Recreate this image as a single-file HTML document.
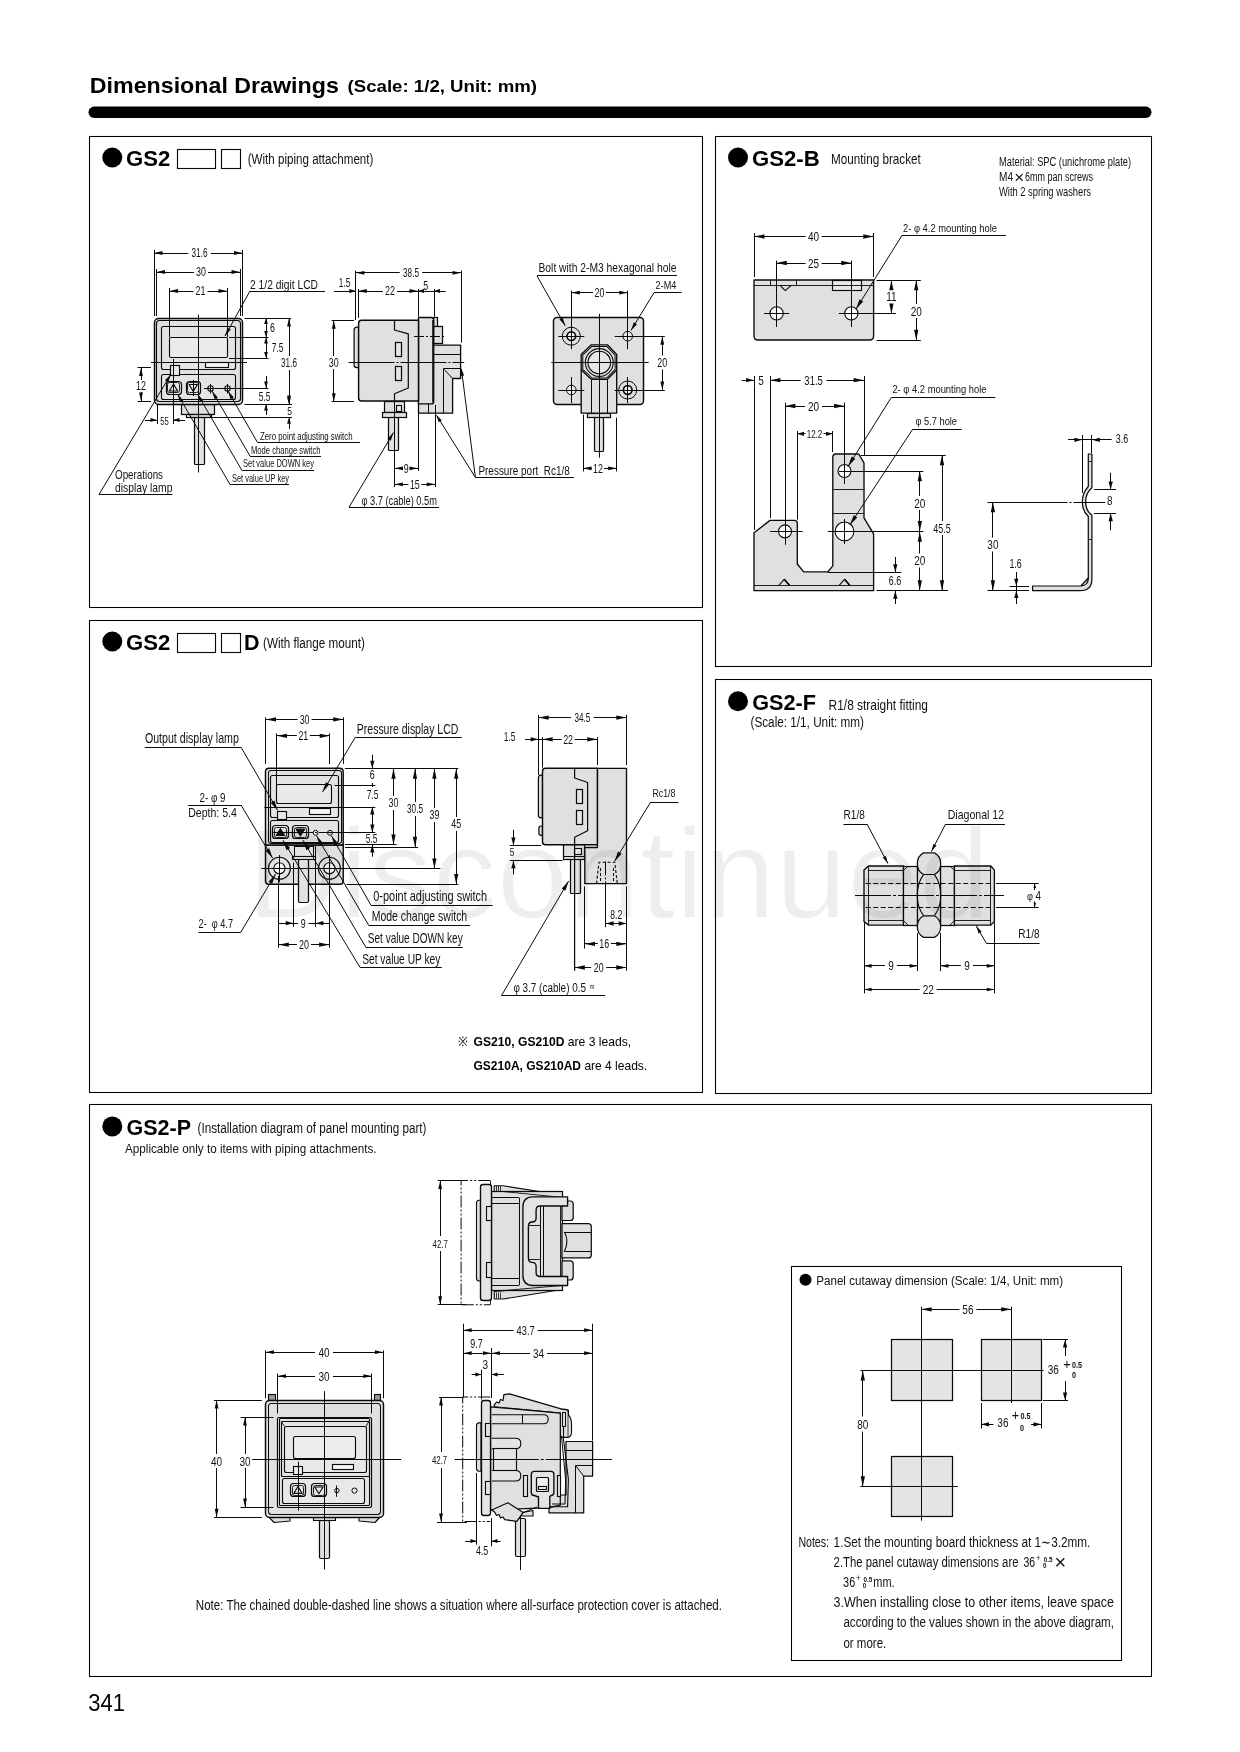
<!DOCTYPE html>
<html><head><meta charset="utf-8"><title>Dimensional Drawings</title>
<style>
html,body{margin:0;padding:0;background:#fff;}
body{width:1240px;height:1752px;overflow:hidden;font-family:"Liberation Sans",sans-serif;}
svg{display:block;font-family:"Liberation Sans",sans-serif;}
</style></head><body>
<svg width="1240" height="1752" viewBox="0 0 1240 1752">
<rect width="1240" height="1752" fill="#fff"/>
<g id="s0_frame">
<text x="89.8" y="93.14" font-size="22.6" textLength="249" lengthAdjust="spacingAndGlyphs" font-weight="bold" fill="#000" xml:space="preserve">Dimensional Drawings</text>
<text x="347.6" y="92.49" font-size="17.2" textLength="189.4" lengthAdjust="spacingAndGlyphs" font-weight="bold" fill="#000" xml:space="preserve">(Scale: 1/2, Unit: mm)</text>
<rect x="88.5" y="106.5" width="1063" height="11.5" rx="5.75" fill="#000"/>
<rect x="89.5" y="136.5" width="613" height="471" rx="0" fill="none" stroke="#000" stroke-width="1.06"/>
<rect x="89.5" y="620.5" width="613" height="472" rx="0" fill="none" stroke="#000" stroke-width="1.06"/>
<rect x="715.5" y="136.5" width="436" height="530" rx="0" fill="none" stroke="#000" stroke-width="1.06"/>
<rect x="715.5" y="679.5" width="436" height="414" rx="0" fill="none" stroke="#000" stroke-width="1.06"/>
<rect x="89.5" y="1104.5" width="1062" height="572" rx="0" fill="none" stroke="#000" stroke-width="1.06"/>
<circle cx="112.3" cy="157.5" r="10" fill="#000" stroke="none" stroke-width="0"/>
<text x="126" y="165.72" font-size="22" textLength="44.3" lengthAdjust="spacingAndGlyphs" font-weight="bold" fill="#000" xml:space="preserve">GS2</text>
<rect x="177.5" y="149.5" width="38" height="19" rx="0" fill="#fff" stroke="#0a0a0a" stroke-width="1.12"/>
<rect x="221.5" y="149.5" width="19" height="19" rx="0" fill="#fff" stroke="#0a0a0a" stroke-width="1.12"/>
<text x="247.7" y="164.44" font-size="14" textLength="125.7" lengthAdjust="spacingAndGlyphs" font-weight="normal" fill="#111" xml:space="preserve">(With piping attachment)</text>
<circle cx="112.3" cy="641.5" r="10" fill="#000" stroke="none" stroke-width="0"/>
<text x="126" y="649.72" font-size="22" textLength="44.3" lengthAdjust="spacingAndGlyphs" font-weight="bold" fill="#000" xml:space="preserve">GS2</text>
<rect x="177.5" y="633.5" width="38" height="19" rx="0" fill="#fff" stroke="#0a0a0a" stroke-width="1.12"/>
<rect x="221.5" y="633.5" width="19" height="19" rx="0" fill="#fff" stroke="#0a0a0a" stroke-width="1.12"/>
<text x="244" y="649.72" font-size="22" textLength="15.5" lengthAdjust="spacingAndGlyphs" font-weight="bold" fill="#000" xml:space="preserve">D</text>
<text x="263" y="648.44" font-size="14" textLength="102" lengthAdjust="spacingAndGlyphs" font-weight="normal" fill="#111" xml:space="preserve">(With flange mount)</text>
<circle cx="738" cy="157.5" r="10" fill="#000" stroke="none" stroke-width="0"/>
<text x="752" y="165.72" font-size="22" textLength="67.7" lengthAdjust="spacingAndGlyphs" font-weight="bold" fill="#000" xml:space="preserve">GS2-B</text>
<text x="831" y="163.82" font-size="14.5" textLength="89.8" lengthAdjust="spacingAndGlyphs" font-weight="normal" fill="#111" xml:space="preserve">Mounting bracket</text>
<text x="999" y="166.32" font-size="12" textLength="132" lengthAdjust="spacingAndGlyphs" font-weight="normal" fill="#111" xml:space="preserve">Material: SPC (unichrome plate)</text>
<text x="999" y="181.12" font-size="12" textLength="14" lengthAdjust="spacingAndGlyphs" font-weight="normal" fill="#111" xml:space="preserve">M4</text>
<text transform="translate(1019.2 182.72) scale(1 1)" font-size="17" text-anchor="middle" font-weight="normal" fill="#111">×</text>
<text x="1025" y="181.12" font-size="12" textLength="68" lengthAdjust="spacingAndGlyphs" font-weight="normal" fill="#111" xml:space="preserve">6mm pan screws</text>
<text x="999" y="196.02" font-size="12" textLength="92" lengthAdjust="spacingAndGlyphs" font-weight="normal" fill="#111" xml:space="preserve">With 2 spring washers</text>
<circle cx="738" cy="701.3" r="10" fill="#000" stroke="none" stroke-width="0"/>
<text x="752.3" y="709.52" font-size="22" textLength="63.7" lengthAdjust="spacingAndGlyphs" font-weight="bold" fill="#000" xml:space="preserve">GS2-F</text>
<text x="828.6" y="710.22" font-size="14.5" textLength="99.4" lengthAdjust="spacingAndGlyphs" font-weight="normal" fill="#111" xml:space="preserve">R1/8 straight fitting</text>
<text x="750.5" y="727.04" font-size="14" textLength="113.5" lengthAdjust="spacingAndGlyphs" font-weight="normal" fill="#111" xml:space="preserve">(Scale: 1/1, Unit: mm)</text>
<circle cx="112.3" cy="1126.4" r="10" fill="#000" stroke="none" stroke-width="0"/>
<text x="126.5" y="1134.62" font-size="22" textLength="64.5" lengthAdjust="spacingAndGlyphs" font-weight="bold" fill="#000" xml:space="preserve">GS2-P</text>
<text x="197.5" y="1132.74" font-size="14" textLength="229" lengthAdjust="spacingAndGlyphs" font-weight="normal" fill="#111" xml:space="preserve">(Installation diagram of panel mounting part)</text>
<text x="125" y="1152.86" font-size="13.5" textLength="251.5" lengthAdjust="spacingAndGlyphs" font-weight="normal" fill="#111" xml:space="preserve">Applicable only to items with piping attachments.</text>
<text x="195.8" y="1610.22" font-size="14.5" textLength="526.2" lengthAdjust="spacingAndGlyphs" font-weight="normal" fill="#111" xml:space="preserve">Note: The chained double-dashed line shows a situation where all-surface protection cover is attached.</text>
<text x="88.3" y="1711.06" font-size="23.5" textLength="36.7" lengthAdjust="spacingAndGlyphs" font-weight="normal" fill="#000" xml:space="preserve">341</text>
</g>
<g id="s1">
<rect x="194.5" y="417.5" width="10" height="47" rx="1" fill="#e2e2e2" stroke="#0a0a0a" stroke-width="1.23"/>
<rect x="181.5" y="404.5" width="33" height="10" rx="0" fill="#e0e0e0" stroke="#0a0a0a" stroke-width="1.23"/>
<rect x="186.5" y="414.5" width="25" height="3" rx="0" fill="#e0e0e0" stroke="#0a0a0a" stroke-width="1.23"/>
<rect x="154.5" y="318.5" width="88" height="86" rx="4" fill="#e0e0e0" stroke="#0a0a0a" stroke-width="1.46"/>
<rect x="156.5" y="320.5" width="84" height="81" rx="3" fill="none" stroke="#0a0a0a" stroke-width="1.12"/>
<rect x="161.5" y="326.5" width="74" height="43" rx="2" fill="#e4e4e4" stroke="#0a0a0a" stroke-width="1.12"/>
<rect x="169.5" y="337.5" width="58" height="20" rx="1.5" fill="#ebebeb" stroke="#0a0a0a" stroke-width="1.12"/>
<rect x="205.5" y="362.5" width="23" height="5" rx="0" fill="#f4f4f4" stroke="#0a0a0a" stroke-width="1.12"/>
<rect x="161.5" y="374.5" width="74" height="25" rx="2" fill="#e4e4e4" stroke="#0a0a0a" stroke-width="1.12"/>
<rect x="170.5" y="365.5" width="9" height="10" rx="0" fill="#e8e8e8" stroke="#0a0a0a" stroke-width="1.12"/>
<rect x="166.5" y="381.5" width="15" height="13" rx="3" fill="#e6e6e6" stroke="#0a0a0a" stroke-width="1.23"/>
<rect x="167.5" y="382.5" width="12" height="10" rx="2" fill="none" stroke="#0a0a0a" stroke-width="0.9"/>
<path d="M173.5 384.15 L177.7 390.95 L169.3 390.95 Z" fill="none" stroke="#0a0a0a" stroke-width="1.12" stroke-linejoin="round" />
<rect x="186.5" y="381.5" width="14" height="13" rx="3" fill="#e6e6e6" stroke="#0a0a0a" stroke-width="1.23"/>
<rect x="187.5" y="382.5" width="11" height="10" rx="2" fill="none" stroke="#0a0a0a" stroke-width="0.9"/>
<path d="M193.25 391.35 L197.45 384.55 L189.05 384.55 Z" fill="none" stroke="#0a0a0a" stroke-width="1.12" stroke-linejoin="round" />
<circle cx="210.5" cy="388.5" r="2.7" fill="#eee" stroke="#0a0a0a" stroke-width="1.1"/>
<line x1="210.5" y1="384" x2="210.5" y2="393.5" stroke="#0a0a0a" stroke-width="1"/>
<circle cx="227.5" cy="388.5" r="2.7" fill="#eee" stroke="#0a0a0a" stroke-width="1.1"/>
<line x1="227.5" y1="384" x2="227.5" y2="393.5" stroke="#0a0a0a" stroke-width="1"/>
<line x1="204" y1="388.5" x2="234" y2="388.5" stroke="#0a0a0a" stroke-width="1" stroke-dasharray="9 2 2 2"/>
<line x1="198.5" y1="314.5" x2="198.5" y2="472.5" stroke="#0a0a0a" stroke-width="1"/>
<line x1="193.5" y1="380" x2="193.5" y2="396" stroke="#0a0a0a" stroke-width="1"/>
<line x1="154.5" y1="250" x2="154.5" y2="316" stroke="#0a0a0a" stroke-width="1"/>
<line x1="242.5" y1="250" x2="242.5" y2="316" stroke="#0a0a0a" stroke-width="1"/>
<line x1="154" y1="253.5" x2="188.24" y2="253.5" stroke="#0a0a0a" stroke-width="1"/>
<line x1="210.76" y1="253.5" x2="242.5" y2="253.5" stroke="#0a0a0a" stroke-width="1"/>
<text transform="translate(199.5 257.32) scale(0.68 1)" font-size="12" text-anchor="middle" font-weight="normal" fill="#111">31.6</text>
<polygon points="154,253 162.5,251.1 162.5,254.9" fill="#0a0a0a"/>
<polygon points="242.5,253 234,254.9 234,251.1" fill="#0a0a0a"/>
<line x1="156.5" y1="269" x2="156.5" y2="316" stroke="#0a0a0a" stroke-width="1"/>
<line x1="240.5" y1="269" x2="240.5" y2="316" stroke="#0a0a0a" stroke-width="1"/>
<line x1="156.5" y1="272.5" x2="193.96" y2="272.5" stroke="#0a0a0a" stroke-width="1"/>
<line x1="208.04" y1="272.5" x2="240" y2="272.5" stroke="#0a0a0a" stroke-width="1"/>
<text transform="translate(201 276.32) scale(0.74 1)" font-size="12" text-anchor="middle" font-weight="normal" fill="#111">30</text>
<polygon points="156.5,272 165,270.1 165,273.9" fill="#0a0a0a"/>
<polygon points="240,272 231.5,273.9 231.5,270.1" fill="#0a0a0a"/>
<line x1="169.5" y1="288" x2="169.5" y2="337" stroke="#0a0a0a" stroke-width="1"/>
<line x1="227.5" y1="288" x2="227.5" y2="337" stroke="#0a0a0a" stroke-width="1"/>
<line x1="169.5" y1="291.5" x2="193.46" y2="291.5" stroke="#0a0a0a" stroke-width="1"/>
<line x1="207.54" y1="291.5" x2="227" y2="291.5" stroke="#0a0a0a" stroke-width="1"/>
<text transform="translate(200.5 295.32) scale(0.74 1)" font-size="12" text-anchor="middle" font-weight="normal" fill="#111">21</text>
<polygon points="169.5,291 178,289.1 178,292.9" fill="#0a0a0a"/>
<polygon points="227,291 218.5,292.9 218.5,289.1" fill="#0a0a0a"/>
<text x="250" y="289.18" font-size="13" textLength="68" lengthAdjust="spacingAndGlyphs" font-weight="normal" fill="#111" xml:space="preserve">2 1/2 digit LCD</text>
<line x1="250" y1="291.5" x2="325" y2="291.5" stroke="#0a0a0a" stroke-width="1"/>
<line x1="250" y1="291" x2="225" y2="336" stroke="#0a0a0a" stroke-width="1"/>
<polygon points="225,336 227.47,327.65 230.79,329.49" fill="#0a0a0a"/>
<line x1="244.5" y1="318.5" x2="291" y2="318.5" stroke="#0a0a0a" stroke-width="1"/>
<line x1="229" y1="337.5" x2="268.5" y2="337.5" stroke="#0a0a0a" stroke-width="1"/>
<line x1="229" y1="358.5" x2="268.5" y2="358.5" stroke="#0a0a0a" stroke-width="1"/>
<line x1="151" y1="362.5" x2="247" y2="362.5" stroke="#0a0a0a" stroke-width="1"/>
<line x1="266.5" y1="318" x2="266.5" y2="337" stroke="#0a0a0a" stroke-width="1"/>
<polygon points="266,318 267.9,324 264.1,324" fill="#0a0a0a"/>
<polygon points="266,337 264.1,331 267.9,331" fill="#0a0a0a"/>
<line x1="266.5" y1="337" x2="266.5" y2="358" stroke="#0a0a0a" stroke-width="1"/>
<polygon points="266,337.5 267.9,343.5 264.1,343.5" fill="#0a0a0a"/>
<polygon points="266,358 264.1,352 267.9,352" fill="#0a0a0a"/>
<text transform="translate(272.5 332.32) scale(0.74 1)" font-size="12" text-anchor="middle" font-weight="normal" fill="#111">6</text>
<text transform="translate(277.5 352.32) scale(0.7 1)" font-size="12" text-anchor="middle" font-weight="normal" fill="#111">7.5</text>
<line x1="289.5" y1="318" x2="289.5" y2="356" stroke="#0a0a0a" stroke-width="1"/>
<line x1="289.5" y1="370" x2="289.5" y2="404" stroke="#0a0a0a" stroke-width="1"/>
<text transform="translate(289 367.32) scale(0.68 1)" font-size="12" text-anchor="middle" font-weight="normal" fill="#111">31.6</text>
<polygon points="289,318 290.9,326.5 287.1,326.5" fill="#0a0a0a"/>
<polygon points="289,404 287.1,395.5 290.9,395.5" fill="#0a0a0a"/>
<line x1="214" y1="388.5" x2="268.5" y2="388.5" stroke="#0a0a0a" stroke-width="1"/>
<line x1="266.5" y1="376" x2="266.5" y2="388" stroke="#0a0a0a" stroke-width="1"/>
<polygon points="266,388 264.1,381.5 267.9,381.5" fill="#0a0a0a"/>
<line x1="266.5" y1="404" x2="266.5" y2="415" stroke="#0a0a0a" stroke-width="1"/>
<polygon points="266,404 267.9,410.5 264.1,410.5" fill="#0a0a0a"/>
<text transform="translate(264.5 400.82) scale(0.7 1)" font-size="12" text-anchor="middle" font-weight="normal" fill="#111">5.5</text>
<line x1="244.5" y1="404.5" x2="292" y2="404.5" stroke="#0a0a0a" stroke-width="1"/>
<line x1="212" y1="417.5" x2="292" y2="417.5" stroke="#0a0a0a" stroke-width="1"/>
<line x1="289.5" y1="417.2" x2="289.5" y2="429" stroke="#0a0a0a" stroke-width="1"/>
<polygon points="289,417.2 290.9,423.7 287.1,423.7" fill="#0a0a0a"/>
<polygon points="289,404 287.1,397.5 290.9,397.5" fill="#0a0a0a"/>
<text transform="translate(289.5 415.34) scale(0.74 1)" font-size="11.5" text-anchor="middle" font-weight="normal" fill="#111">5</text>
<line x1="137.5" y1="367.5" x2="151" y2="367.5" stroke="#0a0a0a" stroke-width="1"/>
<line x1="137.5" y1="401.5" x2="151" y2="401.5" stroke="#0a0a0a" stroke-width="1"/>
<line x1="141.5" y1="367.5" x2="141.5" y2="380" stroke="#0a0a0a" stroke-width="1"/>
<line x1="141.5" y1="392" x2="141.5" y2="401" stroke="#0a0a0a" stroke-width="1"/>
<text transform="translate(141 390.32) scale(0.74 1)" font-size="12" text-anchor="middle" font-weight="normal" fill="#111">12</text>
<polygon points="141,367.5 142.9,376 139.1,376" fill="#0a0a0a"/>
<polygon points="141,401 139.1,392.5 142.9,392.5" fill="#0a0a0a"/>
<line x1="157.5" y1="404" x2="157.5" y2="424" stroke="#0a0a0a" stroke-width="1"/>
<line x1="173.5" y1="359" x2="173.5" y2="424" stroke="#0a0a0a" stroke-width="1"/>
<line x1="145" y1="420.5" x2="157" y2="420.5" stroke="#0a0a0a" stroke-width="1"/>
<polygon points="157,420 150.5,421.9 150.5,418.1" fill="#0a0a0a"/>
<line x1="173" y1="420.5" x2="185" y2="420.5" stroke="#0a0a0a" stroke-width="1"/>
<polygon points="173,420 179.5,418.1 179.5,421.9" fill="#0a0a0a"/>
<text transform="translate(164.6 424.96) scale(0.7 1)" font-size="11" text-anchor="middle" font-weight="normal" fill="#111">55</text>
<text x="260" y="439.84" font-size="11.5" textLength="92.5" lengthAdjust="spacingAndGlyphs" font-weight="normal" fill="#111" xml:space="preserve">Zero point adjusting switch</text>
<line x1="257.5" y1="442.5" x2="360" y2="442.5" stroke="#0a0a0a" stroke-width="1"/>
<line x1="257.5" y1="442.5" x2="228" y2="391" stroke="#0a0a0a" stroke-width="1"/>
<polygon points="228,391 233.87,397.43 230.58,399.32" fill="#0a0a0a"/>
<text x="251" y="453.74" font-size="11.5" textLength="69.5" lengthAdjust="spacingAndGlyphs" font-weight="normal" fill="#111" xml:space="preserve">Mode change switch</text>
<line x1="250" y1="456.5" x2="321" y2="456.5" stroke="#0a0a0a" stroke-width="1"/>
<line x1="250" y1="456" x2="212" y2="391" stroke="#0a0a0a" stroke-width="1"/>
<polygon points="212,391 217.93,397.38 214.65,399.3" fill="#0a0a0a"/>
<text x="243" y="467.34" font-size="11.5" textLength="71" lengthAdjust="spacingAndGlyphs" font-weight="normal" fill="#111" xml:space="preserve">Set value DOWN key</text>
<line x1="242" y1="470.5" x2="314" y2="470.5" stroke="#0a0a0a" stroke-width="1"/>
<line x1="242" y1="470.5" x2="197.5" y2="394" stroke="#0a0a0a" stroke-width="1"/>
<polygon points="197.5,394 203.42,400.39 200.13,402.3" fill="#0a0a0a"/>
<text x="232" y="481.74" font-size="11.5" textLength="57" lengthAdjust="spacingAndGlyphs" font-weight="normal" fill="#111" xml:space="preserve">Set value UP key</text>
<line x1="230" y1="484.5" x2="289" y2="484.5" stroke="#0a0a0a" stroke-width="1"/>
<line x1="230" y1="484.5" x2="177.5" y2="394" stroke="#0a0a0a" stroke-width="1"/>
<polygon points="177.5,394 183.41,400.4 180.12,402.31" fill="#0a0a0a"/>
<text x="115" y="479.28" font-size="13" textLength="48" lengthAdjust="spacingAndGlyphs" font-weight="normal" fill="#111" xml:space="preserve">Operations</text>
<text x="115" y="492.08" font-size="13" textLength="57.5" lengthAdjust="spacingAndGlyphs" font-weight="normal" fill="#111" xml:space="preserve">display lamp</text>
<line x1="99" y1="494.5" x2="172.5" y2="494.5" stroke="#0a0a0a" stroke-width="1"/>
<line x1="99" y1="494.5" x2="171" y2="374" stroke="#0a0a0a" stroke-width="1"/>
<polygon points="171,374 168.27,382.27 165.01,380.32" fill="#0a0a0a"/>
<rect x="388.5" y="417.5" width="10" height="33" rx="1" fill="#e2e2e2" stroke="#0a0a0a" stroke-width="1.23"/>
<rect x="384.5" y="401.5" width="20" height="11" rx="0" fill="#e0e0e0" stroke="#0a0a0a" stroke-width="1.23"/>
<rect x="382.5" y="412.5" width="24" height="5" rx="0" fill="#e0e0e0" stroke="#0a0a0a" stroke-width="1.23"/>
<rect x="396.5" y="405.5" width="5" height="6" rx="0" fill="#e8e8e8" stroke="#0a0a0a" stroke-width="1.12"/>
<path d="M433.7 345.2 L460.6 345.2 L460.6 378.5 L452.6 378.5 L452.6 413.2 L418.5 413.2 L418.5 345.2 Z" fill="#e0e0e0" stroke="#0a0a0a" stroke-width="1.34" stroke-linejoin="round" />
<line x1="433.7" y1="354.5" x2="460.6" y2="354.5" stroke="#0a0a0a" stroke-width="1"/>
<line x1="443.3" y1="368.5" x2="460.6" y2="368.5" stroke="#0a0a0a" stroke-width="1"/>
<line x1="443.5" y1="368.9" x2="443.5" y2="413.2" stroke="#0a0a0a" stroke-width="1"/>
<line x1="444.3" y1="369.5" x2="452.6" y2="378.5" stroke="#0a0a0a" stroke-width="1"/>
<line x1="428.5" y1="403.9" x2="428.5" y2="413.2" stroke="#0a0a0a" stroke-width="1"/>
<rect x="433.5" y="317.5" width="4" height="9" rx="0" fill="#e0e0e0" stroke="#0a0a0a" stroke-width="1.23"/>
<rect x="433.5" y="326.5" width="9" height="17" rx="0" fill="#e0e0e0" stroke="#0a0a0a" stroke-width="1.23"/>
<path d="M418.5 317.5 H431.2 Q433.7 317.5 433.7 320 V401.4 Q433.7 403.9 431.2 403.9 H418.5 Z" fill="#e0e0e0" stroke="#0a0a0a" stroke-width="1.34" stroke-linejoin="round" />
<line x1="432.5" y1="320" x2="432.5" y2="402" stroke="#0a0a0a" stroke-width="0.8"/>
<path d="M354.1 330 Q354.1 327.1 357 327.1 H358.6 V367.7 H357 Q354.1 367.7 354.1 365 Z" fill="#e0e0e0" stroke="#0a0a0a" stroke-width="1.23" stroke-linejoin="round" />
<path d="M361.6 320.3 H418.5 V401 H361.6 Q358.6 401 358.6 398 V323.3 Q358.6 320.3 361.6 320.3 Z" fill="#e0e0e0" stroke="#0a0a0a" stroke-width="1.46" stroke-linejoin="round" />
<path d="M394.5 320.3 V330 L408.3 333.9 V388 L394.5 393.7 V401" fill="none" stroke="#0a0a0a" stroke-width="1.23" stroke-linejoin="round" />
<rect x="395.5" y="342.5" width="6" height="14" rx="0" fill="#e6e6e6" stroke="#0a0a0a" stroke-width="1.23"/>
<rect x="395.5" y="366.5" width="6" height="14" rx="0" fill="#e6e6e6" stroke="#0a0a0a" stroke-width="1.23"/>
<line x1="414" y1="336.5" x2="446" y2="336.5" stroke="#0a0a0a" stroke-width="1" stroke-dasharray="10 2 2 2"/>
<line x1="348.5" y1="362.5" x2="464.2" y2="362.5" stroke="#0a0a0a" stroke-width="1" stroke-dasharray="46 2 2 2"/>
<line x1="355.5" y1="270.6" x2="355.5" y2="320" stroke="#0a0a0a" stroke-width="1"/>
<line x1="461.5" y1="270.6" x2="461.5" y2="342.7" stroke="#0a0a0a" stroke-width="1"/>
<line x1="355.9" y1="272.5" x2="399.74" y2="272.5" stroke="#0a0a0a" stroke-width="1"/>
<line x1="422.26" y1="272.5" x2="461" y2="272.5" stroke="#0a0a0a" stroke-width="1"/>
<text transform="translate(411 277.12) scale(0.68 1)" font-size="12" text-anchor="middle" font-weight="normal" fill="#111">38.5</text>
<polygon points="355.9,272.8 364.4,270.9 364.4,274.7" fill="#0a0a0a"/>
<polygon points="461,272.8 452.5,274.7 452.5,270.9" fill="#0a0a0a"/>
<line x1="358.5" y1="289" x2="358.5" y2="318" stroke="#0a0a0a" stroke-width="1"/>
<line x1="418.5" y1="289" x2="418.5" y2="316.6" stroke="#0a0a0a" stroke-width="1"/>
<line x1="434.5" y1="289" x2="434.5" y2="316.6" stroke="#0a0a0a" stroke-width="1"/>
<text transform="translate(344.5 287.32) scale(0.68 1)" font-size="12" text-anchor="middle" font-weight="normal" fill="#111">1.5</text>
<line x1="334" y1="291.5" x2="355.9" y2="291.5" stroke="#0a0a0a" stroke-width="1"/>
<polygon points="355.9,291 349.4,292.9 349.4,289.1" fill="#0a0a0a"/>
<line x1="358.3" y1="291.5" x2="382.96" y2="291.5" stroke="#0a0a0a" stroke-width="1"/>
<line x1="397.04" y1="291.5" x2="418" y2="291.5" stroke="#0a0a0a" stroke-width="1"/>
<text transform="translate(390 295.32) scale(0.74 1)" font-size="12" text-anchor="middle" font-weight="normal" fill="#111">22</text>
<polygon points="358.3,291 366.8,289.1 366.8,292.9" fill="#0a0a0a"/>
<polygon points="418,291 409.5,292.9 409.5,289.1" fill="#0a0a0a"/>
<text transform="translate(425.7 290.32) scale(0.74 1)" font-size="12" text-anchor="middle" font-weight="normal" fill="#111">5</text>
<line x1="418" y1="291.5" x2="445.6" y2="291.5" stroke="#0a0a0a" stroke-width="1"/>
<polygon points="434,291 440,289.1 440,292.9" fill="#0a0a0a"/>
<polygon points="418,291 424,289.1 424,292.9" fill="#0a0a0a"/>
<line x1="331.6" y1="320.5" x2="354" y2="320.5" stroke="#0a0a0a" stroke-width="1"/>
<line x1="331.6" y1="401.5" x2="354" y2="401.5" stroke="#0a0a0a" stroke-width="1"/>
<line x1="333.5" y1="320.3" x2="333.5" y2="356.1" stroke="#0a0a0a" stroke-width="1"/>
<line x1="333.5" y1="369.1" x2="333.5" y2="401.8" stroke="#0a0a0a" stroke-width="1"/>
<text transform="translate(333.8 366.92) scale(0.74 1)" font-size="12" text-anchor="middle" font-weight="normal" fill="#111">30</text>
<polygon points="333.8,320.3 335.7,328.8 331.9,328.8" fill="#0a0a0a"/>
<polygon points="333.8,401.8 331.9,393.3 335.7,393.3" fill="#0a0a0a"/>
<line x1="394.5" y1="401" x2="394.5" y2="487" stroke="#0a0a0a" stroke-width="1"/>
<line x1="418.5" y1="413.2" x2="418.5" y2="471" stroke="#0a0a0a" stroke-width="1"/>
<line x1="435.5" y1="405" x2="435.5" y2="487" stroke="#0a0a0a" stroke-width="1"/>
<line x1="394.5" y1="468.5" x2="401.75" y2="468.5" stroke="#0a0a0a" stroke-width="1"/>
<line x1="410.75" y1="468.5" x2="418" y2="468.5" stroke="#0a0a0a" stroke-width="1"/>
<text transform="translate(406.25 472.62) scale(0.74 1)" font-size="12" text-anchor="middle" font-weight="normal" fill="#111">9</text>
<polygon points="394.5,468.3 403,466.4 403,470.2" fill="#0a0a0a"/>
<polygon points="418,468.3 409.5,470.2 409.5,466.4" fill="#0a0a0a"/>
<line x1="394.5" y1="484.5" x2="408.35" y2="484.5" stroke="#0a0a0a" stroke-width="1"/>
<line x1="421.35" y1="484.5" x2="435.2" y2="484.5" stroke="#0a0a0a" stroke-width="1"/>
<text transform="translate(414.85 488.62) scale(0.74 1)" font-size="12" text-anchor="middle" font-weight="normal" fill="#111">15</text>
<polygon points="394.5,484.3 403,482.4 403,486.2" fill="#0a0a0a"/>
<polygon points="435.2,484.3 426.7,486.2 426.7,482.4" fill="#0a0a0a"/>
<text x="361.4" y="504.82" font-size="12" textLength="75.6" lengthAdjust="spacingAndGlyphs" font-weight="normal" fill="#111" xml:space="preserve">φ 3.7 (cable) 0.5m</text>
<line x1="349" y1="507.5" x2="439" y2="507.5" stroke="#0a0a0a" stroke-width="1"/>
<line x1="349" y1="507.2" x2="393.5" y2="432.5" stroke="#0a0a0a" stroke-width="1"/>
<polygon points="393.5,432.5 390.78,440.77 387.52,438.83" fill="#0a0a0a"/>
<text x="478.4" y="474.68" font-size="13" textLength="91.4" lengthAdjust="spacingAndGlyphs" font-weight="normal" fill="#111" xml:space="preserve">Pressure port  Rc1/8</text>
<line x1="475.4" y1="477.5" x2="573.8" y2="477.5" stroke="#0a0a0a" stroke-width="1"/>
<line x1="475.4" y1="477.5" x2="436.5" y2="415.3" stroke="#0a0a0a" stroke-width="1"/>
<polygon points="436.5,415.3 441.82,420.23 438.6,422.24" fill="#0a0a0a"/>
<line x1="475.4" y1="477.5" x2="461.4" y2="368.9" stroke="#0a0a0a" stroke-width="1"/>
<polygon points="461.4,368.9 464.19,375.6 460.42,376.09" fill="#0a0a0a"/>
<rect x="594.5" y="417.5" width="9" height="34" rx="1" fill="#e2e2e2" stroke="#0a0a0a" stroke-width="1.23"/>
<rect x="587.5" y="413.5" width="23" height="4" rx="0" fill="#e0e0e0" stroke="#0a0a0a" stroke-width="1.23"/>
<rect x="553.5" y="317.5" width="90" height="87" rx="3.5" fill="#e0e0e0" stroke="#0a0a0a" stroke-width="1.46"/>
<path d="M581.2 354.5 L591.3 344.8 H607.4 L616.7 354.5 V413.2 H581.2 Z" fill="#e0e0e0" stroke="#0a0a0a" stroke-width="1.34" stroke-linejoin="round" />
<path d="M582.8 355.2 L592 346.4 H606.7 L615.1 355.2 V369.4 L606.7 378 H592 L582.8 369.4 Z" fill="none" stroke="#0a0a0a" stroke-width="1.01" stroke-linejoin="round" />
<path d="M581.2 370 L591.3 379.3 H607.4 L616.7 370" fill="none" stroke="#0a0a0a" stroke-width="1.23" stroke-linejoin="round" />
<line x1="591.5" y1="379.3" x2="591.5" y2="413.2" stroke="#0a0a0a" stroke-width="1"/>
<line x1="607.5" y1="379.3" x2="607.5" y2="413.2" stroke="#0a0a0a" stroke-width="1"/>
<circle cx="599.3" cy="362.5" r="13.9" fill="#e4e4e4" stroke="#0a0a0a" stroke-width="1.1"/>
<circle cx="599.3" cy="362.5" r="11.3" fill="#e6e6e6" stroke="#0a0a0a" stroke-width="1.1"/>
<circle cx="571.3" cy="336.2" r="9" fill="none" stroke="#0a0a0a" stroke-width="1"/>
<circle cx="571.3" cy="336.2" r="4.3" fill="#f4f4f4" stroke="#0a0a0a" stroke-width="1.7"/>
<line x1="558.3" y1="336.5" x2="584.3" y2="336.5" stroke="#0a0a0a" stroke-width="1"/>
<line x1="571.5" y1="323.2" x2="571.5" y2="349.2" stroke="#0a0a0a" stroke-width="1"/>
<circle cx="627.7" cy="336.2" r="4.8" fill="#ebebeb" stroke="#0a0a0a" stroke-width="1"/>
<line x1="614.7" y1="336.5" x2="640.7" y2="336.5" stroke="#0a0a0a" stroke-width="1"/>
<line x1="627.5" y1="323.2" x2="627.5" y2="349.2" stroke="#0a0a0a" stroke-width="1"/>
<circle cx="571.3" cy="390" r="4.8" fill="#ebebeb" stroke="#0a0a0a" stroke-width="1"/>
<line x1="558.3" y1="390.5" x2="584.3" y2="390.5" stroke="#0a0a0a" stroke-width="1"/>
<line x1="571.5" y1="377" x2="571.5" y2="403" stroke="#0a0a0a" stroke-width="1"/>
<circle cx="627.7" cy="390" r="9" fill="none" stroke="#0a0a0a" stroke-width="1"/>
<circle cx="627.7" cy="390" r="4.3" fill="#f4f4f4" stroke="#0a0a0a" stroke-width="1.7"/>
<line x1="614.7" y1="390.5" x2="640.7" y2="390.5" stroke="#0a0a0a" stroke-width="1"/>
<line x1="627.5" y1="377" x2="627.5" y2="403" stroke="#0a0a0a" stroke-width="1"/>
<line x1="599.5" y1="313.9" x2="599.5" y2="457.7" stroke="#0a0a0a" stroke-width="1"/>
<line x1="551.3" y1="362.5" x2="648.7" y2="362.5" stroke="#0a0a0a" stroke-width="1"/>
<text x="538.5" y="272.28" font-size="13" textLength="137.9" lengthAdjust="spacingAndGlyphs" font-weight="normal" fill="#111" xml:space="preserve">Bolt with 2-M3 hexagonal hole</text>
<line x1="537" y1="275.5" x2="677" y2="275.5" stroke="#0a0a0a" stroke-width="1"/>
<line x1="537" y1="275.9" x2="565.2" y2="325.8" stroke="#0a0a0a" stroke-width="1"/>
<polygon points="565.2,325.8 559.36,319.33 562.67,317.47" fill="#0a0a0a"/>
<text x="655.6" y="288.54" font-size="11.5" textLength="20.8" lengthAdjust="spacingAndGlyphs" font-weight="normal" fill="#111" xml:space="preserve">2-M4</text>
<line x1="654" y1="292.5" x2="681.6" y2="292.5" stroke="#0a0a0a" stroke-width="1"/>
<line x1="654" y1="292.7" x2="631" y2="330.4" stroke="#0a0a0a" stroke-width="1"/>
<polygon points="631,330.4 633.8,322.15 637.05,324.13" fill="#0a0a0a"/>
<line x1="571.5" y1="290.6" x2="571.5" y2="324" stroke="#0a0a0a" stroke-width="1"/>
<line x1="627.5" y1="290.6" x2="627.5" y2="324" stroke="#0a0a0a" stroke-width="1"/>
<line x1="571.3" y1="292.5" x2="593" y2="292.5" stroke="#0a0a0a" stroke-width="1"/>
<line x1="606" y1="292.5" x2="627.7" y2="292.5" stroke="#0a0a0a" stroke-width="1"/>
<text transform="translate(599.5 297.02) scale(0.74 1)" font-size="12" text-anchor="middle" font-weight="normal" fill="#111">20</text>
<polygon points="571.3,292.7 579.8,290.8 579.8,294.6" fill="#0a0a0a"/>
<polygon points="627.7,292.7 619.2,294.6 619.2,290.8" fill="#0a0a0a"/>
<line x1="640" y1="336.5" x2="664.8" y2="336.5" stroke="#0a0a0a" stroke-width="1"/>
<line x1="640" y1="390.5" x2="664.8" y2="390.5" stroke="#0a0a0a" stroke-width="1"/>
<line x1="662.5" y1="336.2" x2="662.5" y2="355.6" stroke="#0a0a0a" stroke-width="1"/>
<line x1="662.5" y1="369.6" x2="662.5" y2="390" stroke="#0a0a0a" stroke-width="1"/>
<text transform="translate(662.3 366.92) scale(0.74 1)" font-size="12" text-anchor="middle" font-weight="normal" fill="#111">20</text>
<polygon points="662.3,336.2 664.2,344.7 660.4,344.7" fill="#0a0a0a"/>
<polygon points="662.3,390 660.4,381.5 664.2,381.5" fill="#0a0a0a"/>
<line x1="583.5" y1="414.7" x2="583.5" y2="471.4" stroke="#0a0a0a" stroke-width="1"/>
<line x1="616.5" y1="417.7" x2="616.5" y2="471.4" stroke="#0a0a0a" stroke-width="1"/>
<line x1="583" y1="468.5" x2="592" y2="468.5" stroke="#0a0a0a" stroke-width="1"/>
<line x1="604" y1="468.5" x2="616.7" y2="468.5" stroke="#0a0a0a" stroke-width="1"/>
<text transform="translate(598 472.62) scale(0.74 1)" font-size="12" text-anchor="middle" font-weight="normal" fill="#111">12</text>
<polygon points="583,468.3 591.5,466.4 591.5,470.2" fill="#0a0a0a"/>
<polygon points="616.7,468.3 608.2,470.2 608.2,466.4" fill="#0a0a0a"/>
</g>
<g id="s2">
<path d="M265.5 845 H343.2 V881 Q343.2 884.3 340.2 884.3 H268.5 Q265.5 884.3 265.5 881 Z" fill="#e0e0e0" stroke="#0a0a0a" stroke-width="1.46" stroke-linejoin="round" />
<rect x="294.5" y="846.5" width="19" height="10" rx="0" fill="#e4e4e4" stroke="#0a0a0a" stroke-width="1.01"/>
<rect x="292.5" y="856.5" width="23" height="3" rx="0" fill="#eaeaea" stroke="#0a0a0a" stroke-width="1.12"/>
<rect x="298.5" y="859.5" width="10" height="43" rx="1.5" fill="#e2e2e2" stroke="#0a0a0a" stroke-width="1.23"/>
<circle cx="279.4" cy="868.3" r="11" fill="#e6e6e6" stroke="#0a0a0a" stroke-width="1.1"/>
<circle cx="279.4" cy="868.3" r="5.6" fill="#fff" stroke="#0a0a0a" stroke-width="1.1"/>
<line x1="279.5" y1="855" x2="279.5" y2="882" stroke="#0a0a0a" stroke-width="1"/>
<circle cx="329.4" cy="868.3" r="11" fill="#e6e6e6" stroke="#0a0a0a" stroke-width="1.1"/>
<circle cx="329.4" cy="868.3" r="5.6" fill="#fff" stroke="#0a0a0a" stroke-width="1.1"/>
<line x1="329.5" y1="855" x2="329.5" y2="882" stroke="#0a0a0a" stroke-width="1"/>
<path d="M269 768.3 H339.7 Q343.2 768.3 343.2 771.8 V845 H265.5 V771.8 Q265.5 768.3 269 768.3 Z" fill="#e0e0e0" stroke="#0a0a0a" stroke-width="1.46" stroke-linejoin="round" />
<rect x="268.5" y="770.5" width="73" height="73" rx="2.5" fill="none" stroke="#0a0a0a" stroke-width="1.01"/>
<rect x="270.5" y="775.5" width="68" height="42" rx="2" fill="#e4e4e4" stroke="#0a0a0a" stroke-width="1.12"/>
<rect x="276.5" y="784.5" width="55" height="19" rx="2" fill="#e9e9e9" stroke="#0a0a0a" stroke-width="1.12"/>
<rect x="309.5" y="808.5" width="21" height="6" rx="0" fill="#f4f4f4" stroke="#0a0a0a" stroke-width="1.12"/>
<rect x="270.5" y="820.5" width="68" height="22" rx="2" fill="#e4e4e4" stroke="#0a0a0a" stroke-width="1.12"/>
<rect x="277.5" y="811.5" width="9" height="8" rx="0" fill="#e8e8e8" stroke="#0a0a0a" stroke-width="1.12"/>
<rect x="272.5" y="825.5" width="16" height="13" rx="3" fill="#e6e6e6" stroke="#0a0a0a" stroke-width="1.23"/>
<rect x="274.5" y="827.5" width="12" height="10" rx="2" fill="none" stroke="#0a0a0a" stroke-width="0.9"/>
<path d="M280.4 828.75 L284.6 835.55 L276.2 835.55 Z" fill="#111" stroke="#0a0a0a" stroke-width="1.12" stroke-linejoin="round" />
<rect x="292.5" y="825.5" width="16" height="13" rx="3" fill="#e6e6e6" stroke="#0a0a0a" stroke-width="1.23"/>
<rect x="294.5" y="827.5" width="12" height="10" rx="2" fill="none" stroke="#0a0a0a" stroke-width="0.9"/>
<path d="M300.4 835.95 L304.6 829.15 L296.2 829.15 Z" fill="#111" stroke="#0a0a0a" stroke-width="1.12" stroke-linejoin="round" />
<circle cx="315.6" cy="832.8" r="2.5" fill="none" stroke="#0a0a0a" stroke-width="1"/>
<circle cx="330" cy="832.8" r="2.5" fill="none" stroke="#0a0a0a" stroke-width="1"/>
<line x1="261.3" y1="868.5" x2="440.4" y2="868.5" stroke="#0a0a0a" stroke-width="1"/>
<line x1="264.3" y1="807.5" x2="347.8" y2="807.5" stroke="#0a0a0a" stroke-width="1"/>
<line x1="273" y1="832.5" x2="375.3" y2="832.5" stroke="#0a0a0a" stroke-width="1" stroke-dasharray="40 2 2 2 200"/>
<line x1="265.5" y1="717.3" x2="265.5" y2="764" stroke="#0a0a0a" stroke-width="1"/>
<line x1="343.5" y1="717.3" x2="343.5" y2="764" stroke="#0a0a0a" stroke-width="1"/>
<line x1="265.8" y1="719.5" x2="297.6" y2="719.5" stroke="#0a0a0a" stroke-width="1"/>
<line x1="311.6" y1="719.5" x2="343.4" y2="719.5" stroke="#0a0a0a" stroke-width="1"/>
<text transform="translate(304.6 723.72) scale(0.74 1)" font-size="12" text-anchor="middle" font-weight="normal" fill="#111">30</text>
<polygon points="265.8,719.4 276,717.27 276,721.53" fill="#0a0a0a"/>
<polygon points="343.4,719.4 333.2,721.53 333.2,717.27" fill="#0a0a0a"/>
<line x1="276.5" y1="733.4" x2="276.5" y2="801.5" stroke="#0a0a0a" stroke-width="1"/>
<line x1="329.5" y1="733.4" x2="329.5" y2="764" stroke="#0a0a0a" stroke-width="1"/>
<line x1="276.8" y1="735.5" x2="296.85" y2="735.5" stroke="#0a0a0a" stroke-width="1"/>
<line x1="309.85" y1="735.5" x2="329.9" y2="735.5" stroke="#0a0a0a" stroke-width="1"/>
<text transform="translate(303.35 740.12) scale(0.74 1)" font-size="12" text-anchor="middle" font-weight="normal" fill="#111">21</text>
<polygon points="276.8,735.8 287,733.67 287,737.93" fill="#0a0a0a"/>
<polygon points="329.9,735.8 319.7,737.93 319.7,733.67" fill="#0a0a0a"/>
<text x="356.8" y="734.22" font-size="14.5" textLength="101.5" lengthAdjust="spacingAndGlyphs" font-weight="normal" fill="#111" xml:space="preserve">Pressure display LCD</text>
<line x1="355.3" y1="737.5" x2="461.8" y2="737.5" stroke="#0a0a0a" stroke-width="1"/>
<line x1="355.3" y1="737.3" x2="322.5" y2="792" stroke="#0a0a0a" stroke-width="1"/>
<polygon points="322.5,792 325.92,782.16 329.57,784.35" fill="#0a0a0a"/>
<text x="144.9" y="742.52" font-size="14.5" textLength="94" lengthAdjust="spacingAndGlyphs" font-weight="normal" fill="#111" xml:space="preserve">Output display lamp</text>
<line x1="144.9" y1="747.5" x2="241" y2="747.5" stroke="#0a0a0a" stroke-width="1"/>
<line x1="241" y1="747.2" x2="277.7" y2="810.4" stroke="#0a0a0a" stroke-width="1"/>
<polygon points="277.7,810.4 270.74,802.65 274.42,800.51" fill="#0a0a0a"/>
<text x="199.5" y="801.68" font-size="13" textLength="26" lengthAdjust="spacingAndGlyphs" font-weight="normal" fill="#111" xml:space="preserve">2- φ 9</text>
<text x="188.2" y="816.86" font-size="13.5" textLength="48.6" lengthAdjust="spacingAndGlyphs" font-weight="normal" fill="#111" xml:space="preserve">Depth: 5.4</text>
<line x1="188.2" y1="805.5" x2="241" y2="805.5" stroke="#0a0a0a" stroke-width="1"/>
<line x1="241" y1="805" x2="272.6" y2="858.2" stroke="#0a0a0a" stroke-width="1"/>
<polygon points="272.6,858.2 265.56,850.52 269.22,848.34" fill="#0a0a0a"/>
<text x="198.6" y="928.3" font-size="12.5" textLength="34.4" lengthAdjust="spacingAndGlyphs" font-weight="normal" fill="#111" xml:space="preserve">2-  φ 4.7</text>
<line x1="198.6" y1="932.5" x2="240.4" y2="932.5" stroke="#0a0a0a" stroke-width="1"/>
<line x1="240.4" y1="932.8" x2="275.6" y2="874" stroke="#0a0a0a" stroke-width="1"/>
<polygon points="275.6,874 272.19,883.84 268.54,881.66" fill="#0a0a0a"/>
<line x1="344.9" y1="768.5" x2="458.3" y2="768.5" stroke="#0a0a0a" stroke-width="1"/>
<line x1="372.5" y1="754.6" x2="372.5" y2="768.6" stroke="#0a0a0a" stroke-width="1"/>
<polygon points="372.3,768.6 370.17,760.8 374.43,760.8" fill="#0a0a0a"/>
<text transform="translate(372.3 779.12) scale(0.74 1)" font-size="12" text-anchor="middle" font-weight="normal" fill="#111">6</text>
<line x1="334.4" y1="785.5" x2="375.3" y2="785.5" stroke="#0a0a0a" stroke-width="1"/>
<line x1="372.5" y1="783" x2="372.5" y2="787" stroke="#0a0a0a" stroke-width="1"/>
<text transform="translate(372.6 799.32) scale(0.7 1)" font-size="12" text-anchor="middle" font-weight="normal" fill="#111">7.5</text>
<line x1="334.4" y1="807.5" x2="375.3" y2="807.5" stroke="#0a0a0a" stroke-width="1"/>
<line x1="372.5" y1="806.8" x2="372.5" y2="832.4" stroke="#0a0a0a" stroke-width="1"/>
<polygon points="372.3,806.8 374.43,814.6 370.17,814.6" fill="#0a0a0a"/>
<polygon points="372.3,832.4 370.17,824.6 374.43,824.6" fill="#0a0a0a"/>
<text transform="translate(371.7 843.32) scale(0.7 1)" font-size="12" text-anchor="middle" font-weight="normal" fill="#111">5.5</text>
<line x1="372.5" y1="844.7" x2="372.5" y2="856.7" stroke="#0a0a0a" stroke-width="1"/>
<polygon points="372.3,844.7 374.43,852.5 370.17,852.5" fill="#0a0a0a"/>
<line x1="344.9" y1="844.5" x2="396.5" y2="844.5" stroke="#0a0a0a" stroke-width="1"/>
<line x1="344.9" y1="847.5" x2="418" y2="847.5" stroke="#0a0a0a" stroke-width="1"/>
<line x1="346.4" y1="884.5" x2="458.3" y2="884.5" stroke="#0a0a0a" stroke-width="1"/>
<line x1="393.5" y1="768.6" x2="393.5" y2="796" stroke="#0a0a0a" stroke-width="1"/>
<line x1="393.5" y1="810" x2="393.5" y2="844.7" stroke="#0a0a0a" stroke-width="1"/>
<text transform="translate(393.5 807.32) scale(0.74 1)" font-size="12" text-anchor="middle" font-weight="normal" fill="#111">30</text>
<polygon points="393.5,768.6 395.63,778.8 391.37,778.8" fill="#0a0a0a"/>
<polygon points="393.5,844.7 391.37,834.5 395.63,834.5" fill="#0a0a0a"/>
<line x1="415.5" y1="768.6" x2="415.5" y2="802" stroke="#0a0a0a" stroke-width="1"/>
<line x1="415.5" y1="816" x2="415.5" y2="847" stroke="#0a0a0a" stroke-width="1"/>
<text transform="translate(415 813.32) scale(0.68 1)" font-size="12" text-anchor="middle" font-weight="normal" fill="#111">30.5</text>
<polygon points="415,768.6 417.13,778.8 412.87,778.8" fill="#0a0a0a"/>
<polygon points="415,847 412.87,836.8 417.13,836.8" fill="#0a0a0a"/>
<line x1="434.5" y1="768.6" x2="434.5" y2="808" stroke="#0a0a0a" stroke-width="1"/>
<line x1="434.5" y1="822" x2="434.5" y2="868.6" stroke="#0a0a0a" stroke-width="1"/>
<text transform="translate(434.4 819.32) scale(0.74 1)" font-size="12" text-anchor="middle" font-weight="normal" fill="#111">39</text>
<polygon points="434.4,768.6 436.53,778.8 432.27,778.8" fill="#0a0a0a"/>
<polygon points="434.4,868.6 432.27,858.4 436.53,858.4" fill="#0a0a0a"/>
<line x1="456.5" y1="768.6" x2="456.5" y2="817" stroke="#0a0a0a" stroke-width="1"/>
<line x1="456.5" y1="831" x2="456.5" y2="884.1" stroke="#0a0a0a" stroke-width="1"/>
<text transform="translate(456.2 828.32) scale(0.74 1)" font-size="12" text-anchor="middle" font-weight="normal" fill="#111">45</text>
<polygon points="456.2,768.6 458.33,778.8 454.07,778.8" fill="#0a0a0a"/>
<polygon points="456.2,884.1 454.07,873.9 458.33,873.9" fill="#0a0a0a"/>
<line x1="293.5" y1="862.6" x2="293.5" y2="926.8" stroke="#0a0a0a" stroke-width="1"/>
<line x1="315.5" y1="846" x2="315.5" y2="926.8" stroke="#0a0a0a" stroke-width="1"/>
<line x1="279" y1="923.5" x2="293.5" y2="923.5" stroke="#0a0a0a" stroke-width="1"/>
<polygon points="293.5,923.2 285.7,925.33 285.7,921.07" fill="#0a0a0a"/>
<line x1="315.6" y1="923.5" x2="329.3" y2="923.5" stroke="#0a0a0a" stroke-width="1"/>
<polygon points="315.6,923.2 323.4,921.07 323.4,925.33" fill="#0a0a0a"/>
<line x1="293.5" y1="923.5" x2="298" y2="923.5" stroke="#0a0a0a" stroke-width="1"/>
<line x1="308.5" y1="923.5" x2="315.6" y2="923.5" stroke="#0a0a0a" stroke-width="1"/>
<text transform="translate(303.2 927.72) scale(0.74 1)" font-size="12" text-anchor="middle" font-weight="normal" fill="#111">9</text>
<line x1="278.5" y1="876" x2="278.5" y2="947.7" stroke="#0a0a0a" stroke-width="1"/>
<line x1="329.5" y1="876" x2="329.5" y2="947.7" stroke="#0a0a0a" stroke-width="1"/>
<line x1="278.6" y1="944.5" x2="296.95" y2="944.5" stroke="#0a0a0a" stroke-width="1"/>
<line x1="310.95" y1="944.5" x2="329.3" y2="944.5" stroke="#0a0a0a" stroke-width="1"/>
<text transform="translate(303.95 949.02) scale(0.74 1)" font-size="12" text-anchor="middle" font-weight="normal" fill="#111">20</text>
<polygon points="278.6,944.7 288.8,942.57 288.8,946.83" fill="#0a0a0a"/>
<polygon points="329.3,944.7 319.1,946.83 319.1,942.57" fill="#0a0a0a"/>
<text x="373.2" y="900.72" font-size="14.5" textLength="114" lengthAdjust="spacingAndGlyphs" font-weight="normal" fill="#111" xml:space="preserve">0-point adjusting switch</text>
<line x1="371" y1="905.5" x2="492.6" y2="905.5" stroke="#0a0a0a" stroke-width="1"/>
<line x1="371" y1="905.3" x2="331.4" y2="835.8" stroke="#0a0a0a" stroke-width="1"/>
<polygon points="331.4,835.8 338.3,843.61 334.6,845.72" fill="#0a0a0a"/>
<text x="371.7" y="920.72" font-size="14.5" textLength="95.5" lengthAdjust="spacingAndGlyphs" font-weight="normal" fill="#111" xml:space="preserve">Mode change switch</text>
<line x1="368.7" y1="925.5" x2="470.2" y2="925.5" stroke="#0a0a0a" stroke-width="1"/>
<line x1="368.7" y1="925.3" x2="316.5" y2="835.8" stroke="#0a0a0a" stroke-width="1"/>
<polygon points="316.5,835.8 323.48,843.54 319.8,845.68" fill="#0a0a0a"/>
<text x="367.8" y="943.02" font-size="14.5" textLength="94.9" lengthAdjust="spacingAndGlyphs" font-weight="normal" fill="#111" xml:space="preserve">Set value DOWN key</text>
<line x1="365.7" y1="947.5" x2="462.7" y2="947.5" stroke="#0a0a0a" stroke-width="1"/>
<line x1="365.7" y1="947" x2="303" y2="840.3" stroke="#0a0a0a" stroke-width="1"/>
<polygon points="303,840.3 310,848.02 306.33,850.17" fill="#0a0a0a"/>
<text x="362.2" y="963.92" font-size="14.5" textLength="78.2" lengthAdjust="spacingAndGlyphs" font-weight="normal" fill="#111" xml:space="preserve">Set value UP key</text>
<line x1="359.8" y1="967.5" x2="441.8" y2="967.5" stroke="#0a0a0a" stroke-width="1"/>
<line x1="359.8" y1="967" x2="283" y2="840.3" stroke="#0a0a0a" stroke-width="1"/>
<polygon points="283,840.3 290.11,847.92 286.47,850.13" fill="#0a0a0a"/>
<rect x="570.5" y="859.5" width="10" height="34" rx="1" fill="#e2e2e2" stroke="#0a0a0a" stroke-width="1.23"/>
<rect x="563.5" y="844.5" width="21" height="15" rx="0" fill="#e0e0e0" stroke="#0a0a0a" stroke-width="1.23"/>
<line x1="563.5" y1="856.5" x2="584.8" y2="856.5" stroke="#0a0a0a" stroke-width="1"/>
<rect x="574.5" y="848.5" width="7" height="6" rx="0" fill="#e8e8e8" stroke="#0a0a0a" stroke-width="1.12"/>
<path d="M597.4 768.3 L626.5 768.3 L626.5 883.6 L584.8 883.6 L584.8 847.5 L597.4 847.5 Z" fill="#e0e0e0" stroke="#0a0a0a" stroke-width="1.34" stroke-linejoin="round" />
<path d="M596.5 883.6 L599 862.3 H614.8 L617.3 883.6" fill="none" stroke="#0a0a0a" stroke-width="1.12" stroke-linejoin="round" stroke-dasharray="3 2"/>
<line x1="600.5" y1="868" x2="600.5" y2="883.6" stroke="#0a0a0a" stroke-width="1" stroke-dasharray="3 2"/>
<line x1="613.5" y1="868" x2="613.5" y2="883.6" stroke="#0a0a0a" stroke-width="1" stroke-dasharray="3 2"/>
<line x1="605.5" y1="861.4" x2="605.5" y2="927.2" stroke="#0a0a0a" stroke-width="1" stroke-dasharray="14 2 2 2 60"/>
<path d="M538.4 778 Q538.4 775.1 541 775.1 H542.5 V817.8 H541 Q538.4 817.8 538.4 815 Z" fill="#e0e0e0" stroke="#0a0a0a" stroke-width="1.23" stroke-linejoin="round" />
<path d="M538.9 828.5 Q538.9 826 541 826 H542.5 V835.4 H541 Q538.9 835.4 538.9 833 Z" fill="#e0e0e0" stroke="#0a0a0a" stroke-width="1.23" stroke-linejoin="round" />
<path d="M545.5 768.3 H597.4 V844.7 H545.5 Q542.5 844.7 542.5 841.7 V771.3 Q542.5 768.3 545.5 768.3 Z" fill="#e0e0e0" stroke="#0a0a0a" stroke-width="1.46" stroke-linejoin="round" />
<line x1="584.8" y1="847.5" x2="597.4" y2="847.5" stroke="#0a0a0a" stroke-width="1"/>
<path d="M574.6 768.3 V778 L587.6 782.5 V830.8 L574.6 837.3 V970.8" fill="none" stroke="#0a0a0a" stroke-width="1.23" stroke-linejoin="round" />
<rect x="576.5" y="789.5" width="6" height="14" rx="0" fill="#e6e6e6" stroke="#0a0a0a" stroke-width="1.23"/>
<rect x="576.5" y="810.5" width="6" height="14" rx="0" fill="#e6e6e6" stroke="#0a0a0a" stroke-width="1.23"/>
<line x1="538.5" y1="714.8" x2="538.5" y2="775" stroke="#0a0a0a" stroke-width="1"/>
<line x1="626.5" y1="714.8" x2="626.5" y2="765" stroke="#0a0a0a" stroke-width="1"/>
<line x1="538.4" y1="717.5" x2="571.14" y2="717.5" stroke="#0a0a0a" stroke-width="1"/>
<line x1="593.66" y1="717.5" x2="626.5" y2="717.5" stroke="#0a0a0a" stroke-width="1"/>
<text transform="translate(582.4 721.92) scale(0.68 1)" font-size="12" text-anchor="middle" font-weight="normal" fill="#111">34.5</text>
<polygon points="538.4,717.6 548.6,715.47 548.6,719.73" fill="#0a0a0a"/>
<polygon points="626.5,717.6 616.3,719.73 616.3,715.47" fill="#0a0a0a"/>
<line x1="542.5" y1="737" x2="542.5" y2="767.7" stroke="#0a0a0a" stroke-width="1"/>
<line x1="597.5" y1="737" x2="597.5" y2="765" stroke="#0a0a0a" stroke-width="1"/>
<text transform="translate(509.7 741.42) scale(0.7 1)" font-size="12" text-anchor="middle" font-weight="normal" fill="#111">1.5</text>
<line x1="525" y1="739.5" x2="538.4" y2="739.5" stroke="#0a0a0a" stroke-width="1"/>
<polygon points="538.4,739.3 530.6,741.43 530.6,737.17" fill="#0a0a0a"/>
<line x1="542.5" y1="739.5" x2="561.6" y2="739.5" stroke="#0a0a0a" stroke-width="1"/>
<line x1="574.6" y1="739.5" x2="597.4" y2="739.5" stroke="#0a0a0a" stroke-width="1"/>
<text transform="translate(568.1 743.62) scale(0.74 1)" font-size="12" text-anchor="middle" font-weight="normal" fill="#111">22</text>
<polygon points="542.5,739.3 552.7,737.17 552.7,741.43" fill="#0a0a0a"/>
<polygon points="597.4,739.3 587.2,741.43 587.2,737.17" fill="#0a0a0a"/>
<line x1="538.4" y1="739.5" x2="542.5" y2="739.5" stroke="#0a0a0a" stroke-width="1"/>
<line x1="509.7" y1="845.5" x2="541.2" y2="845.5" stroke="#0a0a0a" stroke-width="1"/>
<line x1="509.7" y1="860.5" x2="562.5" y2="860.5" stroke="#0a0a0a" stroke-width="1"/>
<line x1="513.5" y1="829.8" x2="513.5" y2="845.2" stroke="#0a0a0a" stroke-width="1"/>
<polygon points="513.4,845.2 511.27,837.4 515.53,837.4" fill="#0a0a0a"/>
<line x1="513.5" y1="860.5" x2="513.5" y2="874.4" stroke="#0a0a0a" stroke-width="1"/>
<polygon points="513.4,860.5 515.53,868.3 511.27,868.3" fill="#0a0a0a"/>
<text transform="translate(512 856.44) scale(0.74 1)" font-size="11.5" text-anchor="middle" font-weight="normal" fill="#111">5</text>
<text x="652.5" y="796.66" font-size="11" textLength="22.8" lengthAdjust="spacingAndGlyphs" font-weight="normal" fill="#111" xml:space="preserve">Rc1/8</text>
<line x1="650.7" y1="802.5" x2="678.5" y2="802.5" stroke="#0a0a0a" stroke-width="1"/>
<line x1="650.7" y1="802" x2="614.5" y2="861.4" stroke="#0a0a0a" stroke-width="1"/>
<polygon points="614.5,861.4 617.99,851.58 621.63,853.8" fill="#0a0a0a"/>
<line x1="626.5" y1="886.4" x2="626.5" y2="970.8" stroke="#0a0a0a" stroke-width="1"/>
<line x1="584.5" y1="886.4" x2="584.5" y2="948.6" stroke="#0a0a0a" stroke-width="1"/>
<line x1="605.8" y1="923.5" x2="626.5" y2="923.5" stroke="#0a0a0a" stroke-width="1"/>
<polygon points="605.8,923.5 613.6,921.37 613.6,925.63" fill="#0a0a0a"/>
<polygon points="626.5,923.5 618.7,925.63 618.7,921.37" fill="#0a0a0a"/>
<text transform="translate(616.3 918.52) scale(0.72 1)" font-size="12" text-anchor="middle" font-weight="normal" fill="#111">8.2</text>
<line x1="584.8" y1="943.5" x2="597.8" y2="943.5" stroke="#0a0a0a" stroke-width="1"/>
<line x1="610.8" y1="943.5" x2="626.5" y2="943.5" stroke="#0a0a0a" stroke-width="1"/>
<text transform="translate(604.3 948.22) scale(0.74 1)" font-size="12" text-anchor="middle" font-weight="normal" fill="#111">16</text>
<polygon points="584.8,943.9 595,941.77 595,946.03" fill="#0a0a0a"/>
<polygon points="626.5,943.9 616.3,946.03 616.3,941.77" fill="#0a0a0a"/>
<line x1="574.6" y1="967.5" x2="591.2" y2="967.5" stroke="#0a0a0a" stroke-width="1"/>
<line x1="606.2" y1="967.5" x2="626.5" y2="967.5" stroke="#0a0a0a" stroke-width="1"/>
<text transform="translate(598.7 971.82) scale(0.74 1)" font-size="12" text-anchor="middle" font-weight="normal" fill="#111">20</text>
<polygon points="574.6,967.5 584.8,965.37 584.8,969.63" fill="#0a0a0a"/>
<polygon points="626.5,967.5 616.3,969.63 616.3,965.37" fill="#0a0a0a"/>
<text x="513.4" y="992" font-size="12.5" textLength="72.6" lengthAdjust="spacingAndGlyphs" font-weight="normal" fill="#111" xml:space="preserve">φ 3.7 (cable) 0.5</text>
<text transform="translate(592 988.52) scale(0.8 1)" font-size="7" text-anchor="middle" font-weight="normal" fill="#111">m</text>
<line x1="501.3" y1="995.5" x2="605.2" y2="995.5" stroke="#0a0a0a" stroke-width="1"/>
<line x1="501.3" y1="995.9" x2="568.7" y2="880.9" stroke="#0a0a0a" stroke-width="1"/>
<polygon points="568.7,880.9 565.38,890.78 561.71,888.62" fill="#0a0a0a"/>
<text transform="translate(462.3 1045.68) scale(0.9 1)" font-size="13" text-anchor="middle" font-weight="normal" fill="#111">※</text>
<text x="473.5" y="1045.6" font-size="13" textLength="157.7" lengthAdjust="spacingAndGlyphs"><tspan font-weight="bold">GS210, GS210D</tspan> are 3 leads,</text>
<text x="473.5" y="1069.7" font-size="13" textLength="173.7" lengthAdjust="spacingAndGlyphs"><tspan font-weight="bold">GS210A, GS210AD</tspan> are 4 leads.</text>
</g>
<g id="s3">
<path d="M754 280 H873.6 V336 Q873.6 340 869.6 340 H758 Q754 340 754 336 Z" fill="#e0e0e0" stroke="#0a0a0a" stroke-width="1.34" stroke-linejoin="round" />
<line x1="754" y1="285.5" x2="873.6" y2="285.5" stroke="#0a0a0a" stroke-width="0.9"/>
<line x1="770.5" y1="280" x2="770.5" y2="285.4" stroke="#0a0a0a" stroke-width="0.9"/>
<line x1="796.5" y1="280" x2="796.5" y2="285.4" stroke="#0a0a0a" stroke-width="0.9"/>
<path d="M780 285.4 L785.3 290.6 L791.3 285.4" fill="none" stroke="#0a0a0a" stroke-width="1.12" stroke-linejoin="round" />
<rect x="832.5" y="280.5" width="29" height="10" rx="0" fill="#e6e6e6" stroke="#0a0a0a" stroke-width="1.12"/>
<line x1="832" y1="285.5" x2="861.6" y2="285.5" stroke="#0a0a0a" stroke-width="0.9"/>
<line x1="776.5" y1="260.6" x2="776.5" y2="327" stroke="#0a0a0a" stroke-width="1"/>
<line x1="851.5" y1="260.6" x2="851.5" y2="327" stroke="#0a0a0a" stroke-width="1"/>
<circle cx="776.6" cy="313.4" r="6.6" fill="#fff" stroke="#0a0a0a" stroke-width="1.1"/>
<line x1="764.1" y1="313.5" x2="789.1" y2="313.5" stroke="#0a0a0a" stroke-width="1"/>
<line x1="776.5" y1="300.9" x2="776.5" y2="325.9" stroke="#0a0a0a" stroke-width="1"/>
<circle cx="851.3" cy="313.4" r="6.6" fill="#fff" stroke="#0a0a0a" stroke-width="1.1"/>
<line x1="838.8" y1="313.5" x2="863.8" y2="313.5" stroke="#0a0a0a" stroke-width="1"/>
<line x1="851.5" y1="300.9" x2="851.5" y2="325.9" stroke="#0a0a0a" stroke-width="1"/>
<line x1="839" y1="313.5" x2="896" y2="313.5" stroke="#0a0a0a" stroke-width="1"/>
<line x1="754.5" y1="233" x2="754.5" y2="277" stroke="#0a0a0a" stroke-width="1"/>
<line x1="873.5" y1="233" x2="873.5" y2="277" stroke="#0a0a0a" stroke-width="1"/>
<line x1="754" y1="236.5" x2="805.6" y2="236.5" stroke="#0a0a0a" stroke-width="1"/>
<line x1="821.6" y1="236.5" x2="873.6" y2="236.5" stroke="#0a0a0a" stroke-width="1"/>
<text transform="translate(813.6 241) scale(0.8 1)" font-size="12.5" text-anchor="middle" font-weight="normal" fill="#111">40</text>
<polygon points="754,236.5 764.37,234.35 764.37,238.65" fill="#0a0a0a"/>
<polygon points="873.6,236.5 863.23,238.65 863.23,234.35" fill="#0a0a0a"/>
<line x1="776.4" y1="263.5" x2="805.6" y2="263.5" stroke="#0a0a0a" stroke-width="1"/>
<line x1="821.6" y1="263.5" x2="851.6" y2="263.5" stroke="#0a0a0a" stroke-width="1"/>
<text transform="translate(813.6 267.5) scale(0.8 1)" font-size="12.5" text-anchor="middle" font-weight="normal" fill="#111">25</text>
<polygon points="776.4,263 786.77,260.85 786.77,265.15" fill="#0a0a0a"/>
<polygon points="851.6,263 841.23,265.15 841.23,260.85" fill="#0a0a0a"/>
<text x="903" y="231.74" font-size="11.5" textLength="94" lengthAdjust="spacingAndGlyphs" font-weight="normal" fill="#111" xml:space="preserve">2- φ 4.2 mounting hole</text>
<line x1="902" y1="235.5" x2="1006" y2="235.5" stroke="#0a0a0a" stroke-width="1"/>
<line x1="902" y1="235.4" x2="855.9" y2="309.2" stroke="#0a0a0a" stroke-width="1"/>
<polygon points="855.9,309.2 859.57,299.27 863.22,301.54" fill="#0a0a0a"/>
<line x1="876.5" y1="280.5" x2="920.8" y2="280.5" stroke="#0a0a0a" stroke-width="1"/>
<line x1="876.5" y1="340.5" x2="920.8" y2="340.5" stroke="#0a0a0a" stroke-width="1"/>
<line x1="891.5" y1="280" x2="891.5" y2="289.3" stroke="#0a0a0a" stroke-width="1"/>
<line x1="891.5" y1="304.3" x2="891.5" y2="313.8" stroke="#0a0a0a" stroke-width="1"/>
<text transform="translate(891.4 301.3) scale(0.8 1)" font-size="12.5" text-anchor="middle" font-weight="normal" fill="#111">11</text>
<polygon points="891.4,280 893.55,290.37 889.25,290.37" fill="#0a0a0a"/>
<polygon points="891.4,313.8 889.25,303.43 893.55,303.43" fill="#0a0a0a"/>
<line x1="916.5" y1="280" x2="916.5" y2="304" stroke="#0a0a0a" stroke-width="1"/>
<line x1="916.5" y1="318" x2="916.5" y2="340" stroke="#0a0a0a" stroke-width="1"/>
<text transform="translate(916.2 315.5) scale(0.8 1)" font-size="12.5" text-anchor="middle" font-weight="normal" fill="#111">20</text>
<polygon points="916.2,280 918.35,290.37 914.05,290.37" fill="#0a0a0a"/>
<polygon points="916.2,340 914.05,329.63 918.35,329.63" fill="#0a0a0a"/>
<path d="M754 590.7 V532.8 L770 520.4 H794.3 Q797.3 520.4 797.3 523.4 V564 L803.7 571.9 H827.8 L832.8 565.8 V457.2 Q832.8 454 836 454 H858.7 L864 462.9 V517.9 L873.6 533.9 V590.7 Z" fill="#e0e0e0" stroke="#0a0a0a" stroke-width="1.34" stroke-linejoin="round" />
<line x1="754" y1="585.5" x2="873.6" y2="585.5" stroke="#0a0a0a" stroke-width="0.9"/>
<path d="M778.9 585.3 L784.2 579.3 L789.5 585.3" fill="none" stroke="#0a0a0a" stroke-width="1.12" stroke-linejoin="round" />
<path d="M839.2 585.3 L844.5 579.3 L849.8 585.3" fill="none" stroke="#0a0a0a" stroke-width="1.12" stroke-linejoin="round" />
<line x1="784.2" y1="579.3" x2="789.5" y2="585.3" stroke="#0a0a0a" stroke-width="1.6"/>
<line x1="844.5" y1="579.3" x2="849.8" y2="585.3" stroke="#0a0a0a" stroke-width="1.6"/>
<line x1="832.8" y1="489.5" x2="864" y2="489.5" stroke="#0a0a0a" stroke-width="0.9"/>
<line x1="832.8" y1="513.5" x2="864" y2="513.5" stroke="#0a0a0a" stroke-width="0.9"/>
<line x1="785.5" y1="402.6" x2="785.5" y2="544.5" stroke="#0a0a0a" stroke-width="1"/>
<line x1="844.5" y1="402.6" x2="844.5" y2="484" stroke="#0a0a0a" stroke-width="1"/>
<line x1="844.5" y1="519" x2="844.5" y2="544" stroke="#0a0a0a" stroke-width="1"/>
<circle cx="844.5" cy="471" r="6.5" fill="#fff" stroke="#0a0a0a" stroke-width="1.1"/>
<circle cx="844.5" cy="531.4" r="9.4" fill="#fff" stroke="#0a0a0a" stroke-width="1.1"/>
<circle cx="785" cy="531.4" r="6.5" fill="#fff" stroke="#0a0a0a" stroke-width="1.1"/>
<line x1="785.5" y1="519" x2="785.5" y2="544.5" stroke="#0a0a0a" stroke-width="1"/>
<line x1="844.5" y1="458" x2="844.5" y2="484" stroke="#0a0a0a" stroke-width="1"/>
<line x1="844.5" y1="519" x2="844.5" y2="544" stroke="#0a0a0a" stroke-width="1"/>
<line x1="770" y1="531.5" x2="802.6" y2="531.5" stroke="#0a0a0a" stroke-width="1"/>
<line x1="839" y1="471.5" x2="923.3" y2="471.5" stroke="#0a0a0a" stroke-width="1"/>
<line x1="827.8" y1="531.5" x2="923.3" y2="531.5" stroke="#0a0a0a" stroke-width="1"/>
<line x1="860.5" y1="455.5" x2="945.7" y2="455.5" stroke="#0a0a0a" stroke-width="1"/>
<line x1="827.8" y1="572.5" x2="901.3" y2="572.5" stroke="#0a0a0a" stroke-width="1"/>
<line x1="876.5" y1="590.5" x2="948" y2="590.5" stroke="#0a0a0a" stroke-width="1"/>
<line x1="754.5" y1="376" x2="754.5" y2="530" stroke="#0a0a0a" stroke-width="1"/>
<line x1="770.5" y1="376" x2="770.5" y2="518" stroke="#0a0a0a" stroke-width="1"/>
<line x1="864.5" y1="376" x2="864.5" y2="456" stroke="#0a0a0a" stroke-width="1"/>
<line x1="741.6" y1="380.5" x2="754" y2="380.5" stroke="#0a0a0a" stroke-width="1"/>
<polygon points="754,380.2 746.07,382.35 746.07,378.05" fill="#0a0a0a"/>
<text transform="translate(761 384.7) scale(0.8 1)" font-size="12.5" text-anchor="middle" font-weight="normal" fill="#111">5</text>
<line x1="770" y1="380.5" x2="800.6" y2="380.5" stroke="#0a0a0a" stroke-width="1"/>
<line x1="826.6" y1="380.5" x2="864" y2="380.5" stroke="#0a0a0a" stroke-width="1"/>
<text transform="translate(813.6 384.7) scale(0.76 1)" font-size="12.5" text-anchor="middle" font-weight="normal" fill="#111">31.5</text>
<polygon points="770,380.2 780.37,378.05 780.37,382.35" fill="#0a0a0a"/>
<polygon points="864,380.2 853.63,382.35 853.63,378.05" fill="#0a0a0a"/>
<line x1="785" y1="406.5" x2="805.1" y2="406.5" stroke="#0a0a0a" stroke-width="1"/>
<line x1="822.1" y1="406.5" x2="844.5" y2="406.5" stroke="#0a0a0a" stroke-width="1"/>
<text transform="translate(813.6 410.5) scale(0.8 1)" font-size="12.5" text-anchor="middle" font-weight="normal" fill="#111">20</text>
<polygon points="785,406 795.37,403.85 795.37,408.15" fill="#0a0a0a"/>
<polygon points="844.5,406 834.13,408.15 834.13,403.85" fill="#0a0a0a"/>
<line x1="797.5" y1="431" x2="797.5" y2="519.7" stroke="#0a0a0a" stroke-width="1"/>
<line x1="832.5" y1="431" x2="832.5" y2="452" stroke="#0a0a0a" stroke-width="1"/>
<line x1="797.3" y1="433.5" x2="805.5" y2="433.5" stroke="#0a0a0a" stroke-width="1"/>
<line x1="823.5" y1="433.5" x2="832.8" y2="433.5" stroke="#0a0a0a" stroke-width="1"/>
<text transform="translate(814.5 437.94) scale(0.7 1)" font-size="11.5" text-anchor="middle" font-weight="normal" fill="#111">12.2</text>
<polygon points="797.3,433.8 804.01,431.65 804.01,435.95" fill="#0a0a0a"/>
<polygon points="832.8,433.8 826.09,435.95 826.09,431.65" fill="#0a0a0a"/>
<text x="892.4" y="393.14" font-size="11.5" textLength="94.1" lengthAdjust="spacingAndGlyphs" font-weight="normal" fill="#111" xml:space="preserve">2- φ 4.2 mounting hole</text>
<line x1="891.4" y1="397.5" x2="995.3" y2="397.5" stroke="#0a0a0a" stroke-width="1"/>
<line x1="891.4" y1="397.3" x2="848" y2="466.5" stroke="#0a0a0a" stroke-width="1"/>
<polygon points="848,466.5 851.69,456.57 855.33,458.86" fill="#0a0a0a"/>
<text x="915.5" y="425.14" font-size="11.5" textLength="41.5" lengthAdjust="spacingAndGlyphs" font-weight="normal" fill="#111" xml:space="preserve">φ 5.7 hole</text>
<line x1="912.7" y1="429.5" x2="961.6" y2="429.5" stroke="#0a0a0a" stroke-width="1"/>
<line x1="912.7" y1="429.2" x2="849.8" y2="525" stroke="#0a0a0a" stroke-width="1"/>
<polygon points="849.8,525 853.69,515.15 857.29,517.51" fill="#0a0a0a"/>
<line x1="919.5" y1="471" x2="919.5" y2="496" stroke="#0a0a0a" stroke-width="1"/>
<line x1="919.5" y1="510" x2="919.5" y2="531.4" stroke="#0a0a0a" stroke-width="1"/>
<text transform="translate(919.8 507.5) scale(0.8 1)" font-size="12.5" text-anchor="middle" font-weight="normal" fill="#111">20</text>
<polygon points="919.8,471 921.95,481.37 917.65,481.37" fill="#0a0a0a"/>
<polygon points="919.8,531.4 917.65,521.03 921.95,521.03" fill="#0a0a0a"/>
<line x1="919.5" y1="531.4" x2="919.5" y2="553.5" stroke="#0a0a0a" stroke-width="1"/>
<line x1="919.5" y1="567.5" x2="919.5" y2="590.7" stroke="#0a0a0a" stroke-width="1"/>
<text transform="translate(919.8 565) scale(0.8 1)" font-size="12.5" text-anchor="middle" font-weight="normal" fill="#111">20</text>
<polygon points="919.8,531.4 921.95,541.77 917.65,541.77" fill="#0a0a0a"/>
<polygon points="919.8,590.7 917.65,580.33 921.95,580.33" fill="#0a0a0a"/>
<line x1="942.5" y1="455" x2="942.5" y2="521" stroke="#0a0a0a" stroke-width="1"/>
<line x1="942.5" y1="535" x2="942.5" y2="590.7" stroke="#0a0a0a" stroke-width="1"/>
<text transform="translate(942 532.5) scale(0.72 1)" font-size="12.5" text-anchor="middle" font-weight="normal" fill="#111">45.5</text>
<polygon points="942,455 944.15,465.37 939.85,465.37" fill="#0a0a0a"/>
<polygon points="942,590.7 939.85,580.33 944.15,580.33" fill="#0a0a0a"/>
<line x1="895.5" y1="557" x2="895.5" y2="572.2" stroke="#0a0a0a" stroke-width="1"/>
<polygon points="895.3,572.2 893.15,564.27 897.45,564.27" fill="#0a0a0a"/>
<line x1="895.5" y1="590.7" x2="895.5" y2="604" stroke="#0a0a0a" stroke-width="1"/>
<polygon points="895.3,590.7 897.45,598.63 893.15,598.63" fill="#0a0a0a"/>
<text transform="translate(895 585.12) scale(0.74 1)" font-size="12" text-anchor="middle" font-weight="normal" fill="#111">6.6</text>
<path d="M1088.3 454 H1091.9 V487.8 Q1085.6 493 1085.6 502 Q1085.6 511 1091.9 515 V579 Q1091.9 590.7 1080 590.7 H1032.6 V586 H1080 Q1088.3 586 1088.3 578 V516.5 Q1082.3 511 1082.3 502 Q1082.3 493 1088.3 486.5 Z" fill="#e0e0e0" stroke="#0a0a0a" stroke-width="1.23" stroke-linejoin="round" />
<line x1="1088.3" y1="461.5" x2="1091.9" y2="461.5" stroke="#0a0a0a" stroke-width="0.9"/>
<line x1="1088.3" y1="539.5" x2="1091.9" y2="539.5" stroke="#0a0a0a" stroke-width="0.9"/>
<line x1="1081" y1="586" x2="1088.3" y2="578" stroke="#0a0a0a" stroke-width="1.4"/>
<line x1="987.5" y1="502.5" x2="1105.3" y2="502.5" stroke="#0a0a0a" stroke-width="1" stroke-dasharray="80 2 2 2"/>
<text transform="translate(1109.8 504.8) scale(0.8 1)" font-size="12.5" text-anchor="middle" font-weight="normal" fill="#111">8</text>
<line x1="1082.5" y1="435" x2="1082.5" y2="493" stroke="#0a0a0a" stroke-width="1"/>
<line x1="1091.5" y1="435" x2="1091.5" y2="453" stroke="#0a0a0a" stroke-width="1"/>
<line x1="1068" y1="439.5" x2="1082.3" y2="439.5" stroke="#0a0a0a" stroke-width="1"/>
<polygon points="1082.3,439.8 1074.37,441.95 1074.37,437.65" fill="#0a0a0a"/>
<line x1="1091.9" y1="439.5" x2="1111.7" y2="439.5" stroke="#0a0a0a" stroke-width="1"/>
<polygon points="1091.9,439.8 1099.83,437.65 1099.83,441.95" fill="#0a0a0a"/>
<line x1="1082.3" y1="439.5" x2="1091.9" y2="439.5" stroke="#0a0a0a" stroke-width="1"/>
<text transform="translate(1122 443.12) scale(0.74 1)" font-size="12" text-anchor="middle" font-weight="normal" fill="#111">3.6</text>
<line x1="1094" y1="489.5" x2="1116" y2="489.5" stroke="#0a0a0a" stroke-width="1"/>
<line x1="1094" y1="513.5" x2="1116" y2="513.5" stroke="#0a0a0a" stroke-width="1"/>
<line x1="1110.5" y1="472.8" x2="1110.5" y2="489.5" stroke="#0a0a0a" stroke-width="1"/>
<polygon points="1110.7,489.5 1108.55,481.57 1112.85,481.57" fill="#0a0a0a"/>
<line x1="1110.5" y1="513.3" x2="1110.5" y2="530.3" stroke="#0a0a0a" stroke-width="1"/>
<polygon points="1110.7,513.3 1112.85,521.23 1108.55,521.23" fill="#0a0a0a"/>
<line x1="987.5" y1="590.5" x2="1029" y2="590.5" stroke="#0a0a0a" stroke-width="1"/>
<line x1="992.5" y1="502" x2="992.5" y2="537.5" stroke="#0a0a0a" stroke-width="1"/>
<line x1="992.5" y1="551.5" x2="992.5" y2="590.7" stroke="#0a0a0a" stroke-width="1"/>
<text transform="translate(992.9 549) scale(0.8 1)" font-size="12.5" text-anchor="middle" font-weight="normal" fill="#111">30</text>
<polygon points="992.9,502 995.05,512.37 990.75,512.37" fill="#0a0a0a"/>
<polygon points="992.9,590.7 990.75,580.33 995.05,580.33" fill="#0a0a0a"/>
<line x1="1009.5" y1="586.5" x2="1029" y2="586.5" stroke="#0a0a0a" stroke-width="1"/>
<line x1="1016.5" y1="572" x2="1016.5" y2="586" stroke="#0a0a0a" stroke-width="1"/>
<polygon points="1016.3,586 1014.15,578.68 1018.45,578.68" fill="#0a0a0a"/>
<line x1="1016.5" y1="590.7" x2="1016.5" y2="604" stroke="#0a0a0a" stroke-width="1"/>
<polygon points="1016.3,590.7 1018.45,598.02 1014.15,598.02" fill="#0a0a0a"/>
<line x1="1016.5" y1="586" x2="1016.5" y2="590.7" stroke="#0a0a0a" stroke-width="1"/>
<text transform="translate(1015.6 567.62) scale(0.74 1)" font-size="12" text-anchor="middle" font-weight="normal" fill="#111">1.6</text>
</g>
<g id="s4">
<path d="M864 870.1 L868.4 866 H903.5 V925.1 H868.4 L864 921.5 Z" fill="#e0e0e0" stroke="#0a0a0a" stroke-width="1.34" stroke-linejoin="round" />
<line x1="868.5" y1="866" x2="868.5" y2="925.1" stroke="#0a0a0a" stroke-width="0.9"/>
<rect x="903.5" y="866.5" width="14" height="59" rx="0" fill="#e0e0e0" stroke="#0a0a0a" stroke-width="1.23"/>
<line x1="903.5" y1="870.5" x2="908" y2="866" stroke="#0a0a0a" stroke-width="0.9"/>
<line x1="903.5" y1="920.6" x2="908" y2="925.1" stroke="#0a0a0a" stroke-width="0.9"/>
<rect x="940.5" y="866.5" width="14" height="59" rx="0" fill="#e0e0e0" stroke="#0a0a0a" stroke-width="1.23"/>
<line x1="954.4" y1="870.5" x2="950" y2="866" stroke="#0a0a0a" stroke-width="0.9"/>
<line x1="954.4" y1="920.6" x2="950" y2="925.1" stroke="#0a0a0a" stroke-width="0.9"/>
<path d="M954.4 866 H990.8 L994.4 870.1 V921.5 L990.8 925.1 H954.4 Z" fill="#e0e0e0" stroke="#0a0a0a" stroke-width="1.34" stroke-linejoin="round" />
<line x1="990.5" y1="866" x2="990.5" y2="925.1" stroke="#0a0a0a" stroke-width="0.9"/>
<line x1="868.4" y1="870.5" x2="903.5" y2="870.5" stroke="#0a0a0a" stroke-width="0.9"/>
<line x1="868.4" y1="920.5" x2="903.5" y2="920.5" stroke="#0a0a0a" stroke-width="0.9"/>
<line x1="954.4" y1="870.5" x2="990.8" y2="870.5" stroke="#0a0a0a" stroke-width="0.9"/>
<line x1="954.4" y1="920.5" x2="990.8" y2="920.5" stroke="#0a0a0a" stroke-width="0.9"/>
<rect x="917.5" y="866.5" width="23" height="59" rx="0" fill="#e0e0e0" stroke="#0a0a0a" stroke-width="1.23"/>
<path d="M923.6 874.4 Q917 884 917.3 895.5 Q917 907 923.6 915.6" fill="none" stroke="#0a0a0a" stroke-width="1.12" stroke-linejoin="round" />
<path d="M934.4 874.4 Q941 884 940.7 895.5 Q941 907 934.4 915.6" fill="none" stroke="#0a0a0a" stroke-width="1.12" stroke-linejoin="round" />
<path d="M917.3 863.7 Q917.3 856.2 923.6 852.9 H934.4 Q940.7 856.2 940.7 863.7 Q940.7 871.2 934.4 874.5 H923.6 Q917.3 871.2 917.3 863.7 Z" fill="#e0e0e0" stroke="#0a0a0a" stroke-width="1.23" stroke-linejoin="round" />
<path d="M917.3 926.6 Q917.3 919.1 923.6 915.8 H934.4 Q940.7 919.1 940.7 926.6 Q940.7 934.1 934.4 937.4 H923.6 Q917.3 934.1 917.3 926.6 Z" fill="#e0e0e0" stroke="#0a0a0a" stroke-width="1.23" stroke-linejoin="round" />
<line x1="865.7" y1="883.5" x2="992.6" y2="883.5" stroke="#0a0a0a" stroke-width="1" stroke-dasharray="5 2.5"/>
<line x1="865.7" y1="907.5" x2="992.6" y2="907.5" stroke="#0a0a0a" stroke-width="1" stroke-dasharray="5 2.5"/>
<line x1="996" y1="883.5" x2="1038.7" y2="883.5" stroke="#0a0a0a" stroke-width="1"/>
<line x1="996" y1="907.5" x2="1038.7" y2="907.5" stroke="#0a0a0a" stroke-width="1"/>
<line x1="855" y1="895.5" x2="1004" y2="895.5" stroke="#0a0a0a" stroke-width="1" stroke-dasharray="36 2 3 2"/>
<line x1="1034.5" y1="883.4" x2="1034.5" y2="907.3" stroke="#0a0a0a" stroke-width="1"/>
<polygon points="1034.8,883.4 1036.12,887.9 1033.48,887.9" fill="#0a0a0a"/>
<polygon points="1034.8,907.3 1033.48,902.8 1036.12,902.8" fill="#0a0a0a"/>
<rect x="1026.5" y="890" width="15" height="11.5" fill="#fff"/>
<text transform="translate(1030 899.94) scale(0.8 1)" font-size="11.5" text-anchor="middle" font-weight="normal" fill="#111">φ</text>
<text transform="translate(1038.3 900.1) scale(0.8 1)" font-size="12.5" text-anchor="middle" font-weight="normal" fill="#111">4</text>
<text x="843.5" y="819.06" font-size="13.5" textLength="21.3" lengthAdjust="spacingAndGlyphs" font-weight="normal" fill="#111" xml:space="preserve">R1/8</text>
<line x1="843.5" y1="824.5" x2="867" y2="824.5" stroke="#0a0a0a" stroke-width="1"/>
<line x1="867" y1="824" x2="887.9" y2="863.5" stroke="#0a0a0a" stroke-width="1"/>
<polygon points="887.9,863.5 882.74,857.57 885.9,855.9" fill="#0a0a0a"/>
<text x="947.7" y="819.06" font-size="13.5" textLength="56.4" lengthAdjust="spacingAndGlyphs" font-weight="normal" fill="#111" xml:space="preserve">Diagonal 12</text>
<line x1="945.6" y1="824.5" x2="1005" y2="824.5" stroke="#0a0a0a" stroke-width="1"/>
<line x1="945.6" y1="824" x2="931.4" y2="851.5" stroke="#0a0a0a" stroke-width="1"/>
<polygon points="931.4,851.5 933.32,843.88 936.5,845.52" fill="#0a0a0a"/>
<text x="1018.3" y="937.86" font-size="13.5" textLength="21.3" lengthAdjust="spacingAndGlyphs" font-weight="normal" fill="#111" xml:space="preserve">R1/8</text>
<line x1="986.4" y1="943.5" x2="1039.6" y2="943.5" stroke="#0a0a0a" stroke-width="1"/>
<line x1="986.4" y1="943.4" x2="976.3" y2="926" stroke="#0a0a0a" stroke-width="1"/>
<polygon points="976.3,926 981.69,931.72 978.6,933.51" fill="#0a0a0a"/>
<line x1="864.5" y1="922.4" x2="864.5" y2="993.4" stroke="#0a0a0a" stroke-width="1"/>
<line x1="994.5" y1="922.4" x2="994.5" y2="993.4" stroke="#0a0a0a" stroke-width="1"/>
<line x1="917.5" y1="933" x2="917.5" y2="971.2" stroke="#0a0a0a" stroke-width="1"/>
<line x1="940.5" y1="933" x2="940.5" y2="971.2" stroke="#0a0a0a" stroke-width="1"/>
<line x1="864" y1="965.5" x2="884.9" y2="965.5" stroke="#0a0a0a" stroke-width="1"/>
<line x1="896.9" y1="965.5" x2="917.2" y2="965.5" stroke="#0a0a0a" stroke-width="1"/>
<text transform="translate(890.9 970.4) scale(0.8 1)" font-size="12.5" text-anchor="middle" font-weight="normal" fill="#111">9</text>
<polygon points="864,965.9 871.65,964.11 871.65,967.69" fill="#0a0a0a"/>
<polygon points="917.2,965.9 909.55,967.69 909.55,964.11" fill="#0a0a0a"/>
<line x1="940.8" y1="965.5" x2="960.9" y2="965.5" stroke="#0a0a0a" stroke-width="1"/>
<line x1="972.9" y1="965.5" x2="994.4" y2="965.5" stroke="#0a0a0a" stroke-width="1"/>
<text transform="translate(966.9 970.4) scale(0.8 1)" font-size="12.5" text-anchor="middle" font-weight="normal" fill="#111">9</text>
<polygon points="940.8,965.9 948.45,964.11 948.45,967.69" fill="#0a0a0a"/>
<polygon points="994.4,965.9 986.75,967.69 986.75,964.11" fill="#0a0a0a"/>
<line x1="864" y1="989.5" x2="919.7" y2="989.5" stroke="#0a0a0a" stroke-width="1"/>
<line x1="936.7" y1="989.5" x2="994.4" y2="989.5" stroke="#0a0a0a" stroke-width="1"/>
<text transform="translate(928.2 994) scale(0.8 1)" font-size="12.5" text-anchor="middle" font-weight="normal" fill="#111">22</text>
<polygon points="864,989.5 871.65,987.71 871.65,991.29" fill="#0a0a0a"/>
<polygon points="994.4,989.5 986.75,991.29 986.75,987.71" fill="#0a0a0a"/>
</g>
<g id="s5">
<path d="M490.2 1180.6 H461.1 V1304.8 H490.2" fill="none" stroke="#0a0a0a" stroke-width="1.01" stroke-linejoin="round" stroke-dasharray="12 2 2 2 2 2"/>
<line x1="490.5" y1="1180.6" x2="490.5" y2="1184.2" stroke="#0a0a0a" stroke-width="0.9"/>
<line x1="490.5" y1="1300" x2="490.5" y2="1304.8" stroke="#0a0a0a" stroke-width="0.9"/>
<path d="M494.2 1185.8 L503 1185.8 L562 1195 L562 1199 L494.2 1193 Z" fill="#e0e0e0" stroke="#0a0a0a" stroke-width="1.12" stroke-linejoin="round" />
<path d="M494.2 1299 L503 1299 L562 1289.5 L562 1285.5 L494.2 1291.5 Z" fill="#e0e0e0" stroke="#0a0a0a" stroke-width="1.12" stroke-linejoin="round" />
<line x1="496.5" y1="1186" x2="496.5" y2="1192" stroke="#0a0a0a" stroke-width="0.8"/>
<line x1="496.5" y1="1292.5" x2="496.5" y2="1298.6" stroke="#0a0a0a" stroke-width="0.8"/>
<line x1="498.5" y1="1186" x2="498.5" y2="1192" stroke="#0a0a0a" stroke-width="0.8"/>
<line x1="498.5" y1="1292.5" x2="498.5" y2="1298.6" stroke="#0a0a0a" stroke-width="0.8"/>
<line x1="500.5" y1="1186" x2="500.5" y2="1192" stroke="#0a0a0a" stroke-width="0.8"/>
<line x1="500.5" y1="1292.5" x2="500.5" y2="1298.6" stroke="#0a0a0a" stroke-width="0.8"/>
<rect x="491.5" y="1191.5" width="71" height="99" rx="0" fill="#e0e0e0" stroke="#0a0a0a" stroke-width="1.23"/>
<line x1="491" y1="1197.5" x2="519.2" y2="1197.5" stroke="#0a0a0a" stroke-width="1"/>
<line x1="491" y1="1203.5" x2="519.2" y2="1203.5" stroke="#0a0a0a" stroke-width="1"/>
<line x1="491" y1="1278.5" x2="519.2" y2="1278.5" stroke="#0a0a0a" stroke-width="1"/>
<line x1="491" y1="1285.5" x2="519.2" y2="1285.5" stroke="#0a0a0a" stroke-width="1"/>
<line x1="519.5" y1="1197.9" x2="519.5" y2="1285" stroke="#0a0a0a" stroke-width="1"/>
<line x1="503" y1="1191.5" x2="562" y2="1197.4" stroke="#0a0a0a" stroke-width="0.9"/>
<line x1="503" y1="1290.6" x2="562" y2="1285.5" stroke="#0a0a0a" stroke-width="0.9"/>
<path d="M562 1201 H570.2 Q573.2 1201 573.2 1204 V1217.5 Q573.2 1220.5 570.2 1220.5 H562 Z" fill="#e0e0e0" stroke="#0a0a0a" stroke-width="1.23" stroke-linejoin="round" />
<path d="M562 1260.8 H570.2 Q573.2 1260.8 573.2 1263.8 V1277 Q573.2 1280 570.2 1280 H562 Z" fill="#e0e0e0" stroke="#0a0a0a" stroke-width="1.23" stroke-linejoin="round" />
<path d="M562 1223.7 H588.3 Q591.3 1223.7 591.3 1226.7 V1254.9 Q591.3 1257.9 588.3 1257.9 H562 Z" fill="#e0e0e0" stroke="#0a0a0a" stroke-width="1.23" stroke-linejoin="round" />
<line x1="564.4" y1="1232.5" x2="591.3" y2="1232.5" stroke="#0a0a0a" stroke-width="1"/>
<line x1="564.4" y1="1251.5" x2="591.3" y2="1251.5" stroke="#0a0a0a" stroke-width="1"/>
<path d="M564.4 1232 Q569.5 1240.7 564.4 1251.5" fill="none" stroke="#0a0a0a" stroke-width="1.12" stroke-linejoin="round" />
<line x1="540.5" y1="1206" x2="540.5" y2="1276.5" stroke="#0a0a0a" stroke-width="1"/>
<line x1="543.5" y1="1206" x2="543.5" y2="1276.5" stroke="#0a0a0a" stroke-width="1"/>
<line x1="560.5" y1="1206" x2="560.5" y2="1276.5" stroke="#0a0a0a" stroke-width="0.9"/>
<path d="M567.6 1196.8 H533 Q522.9 1196.8 522.9 1207 V1275.3 Q522.9 1285.5 533 1285.5 H567.6 V1276.5 H540 Q536.1 1276.5 536.1 1272.5 V1266.4 Q536.1 1262.4 532 1262.4 Q528.4 1262.4 528.4 1258 V1226.4 Q528.4 1222 532 1222 Q536.1 1222 536.1 1218 V1210 Q536.1 1206 540 1206 H567.6 Z" fill="#e4e4e4" stroke="#0a0a0a" stroke-width="1.34" stroke-linejoin="round" />
<line x1="528.4" y1="1225.5" x2="540.2" y2="1225.5" stroke="#0a0a0a" stroke-width="0.9"/>
<line x1="528.4" y1="1259.5" x2="540.2" y2="1259.5" stroke="#0a0a0a" stroke-width="0.9"/>
<path d="M476.5 1203.3 Q476.5 1200.3 479 1200.3 H480.5 V1281 H479 Q476.5 1281 476.5 1278 Z" fill="#e0e0e0" stroke="#0a0a0a" stroke-width="1.12" stroke-linejoin="round" />
<rect x="480.5" y="1184.5" width="11" height="116" rx="2.5" fill="#e4e4e4" stroke="#0a0a0a" stroke-width="1.34"/>
<rect x="486.5" y="1206.5" width="5" height="14" rx="0" fill="#e4e4e4" stroke="#0a0a0a" stroke-width="1.12"/>
<rect x="486.5" y="1262.5" width="5" height="15" rx="0" fill="#e4e4e4" stroke="#0a0a0a" stroke-width="1.12"/>
<line x1="437.7" y1="1180.5" x2="463.5" y2="1180.5" stroke="#0a0a0a" stroke-width="1"/>
<line x1="437.7" y1="1304.5" x2="466" y2="1304.5" stroke="#0a0a0a" stroke-width="1"/>
<line x1="440.5" y1="1180.6" x2="440.5" y2="1236" stroke="#0a0a0a" stroke-width="1"/>
<line x1="440.5" y1="1251" x2="440.5" y2="1304.8" stroke="#0a0a0a" stroke-width="1"/>
<polygon points="440.2,1180.6 442.1,1189.1 438.3,1189.1" fill="#0a0a0a"/>
<polygon points="440.2,1304.8 438.3,1296.3 442.1,1296.3" fill="#0a0a0a"/>
<text transform="translate(440.2 1248.04) scale(0.68 1)" font-size="11.5" text-anchor="middle" font-weight="normal" fill="#111">42.7</text>
<path d="M269 1517 L290 1517 L290 1521 L274 1522.5 Z" fill="#e0e0e0" stroke="#0a0a0a" stroke-width="1.12" stroke-linejoin="round" />
<path d="M380 1517 L359 1517 L359 1521 L375 1522.5 Z" fill="#e0e0e0" stroke="#0a0a0a" stroke-width="1.12" stroke-linejoin="round" />
<rect x="319.5" y="1520.5" width="10" height="38" rx="1.5" fill="#e2e2e2" stroke="#0a0a0a" stroke-width="1.23"/>
<rect x="313.5" y="1517.5" width="22" height="3" rx="0" fill="#e4e4e4" stroke="#0a0a0a" stroke-width="1.12"/>
<rect x="268.5" y="1394.5" width="7" height="6" rx="0" fill="#999" stroke="#0a0a0a" stroke-width="1.12"/>
<rect x="374.5" y="1394.5" width="6" height="6" rx="0" fill="#999" stroke="#0a0a0a" stroke-width="1.12"/>
<rect x="265.5" y="1400.5" width="118" height="117" rx="4" fill="#e0e0e0" stroke="#0a0a0a" stroke-width="1.46"/>
<rect x="268.5" y="1403.5" width="112" height="111" rx="3" fill="none" stroke="#0a0a0a" stroke-width="1.01"/>
<rect x="277.5" y="1417.5" width="94" height="90" rx="1.5" fill="#e2e2e2" stroke="#0a0a0a" stroke-width="1.23"/>
<rect x="279.5" y="1418.5" width="90" height="87" rx="1" fill="none" stroke="#0a0a0a" stroke-width="1.01"/>
<rect x="281.5" y="1421.5" width="88" height="55" rx="1" fill="#e4e4e4" stroke="#0a0a0a" stroke-width="1.12"/>
<rect x="284.5" y="1426.5" width="82" height="46" rx="2" fill="#e8e8e8" stroke="#0a0a0a" stroke-width="1.12"/>
<line x1="281" y1="1421.3" x2="284.6" y2="1426.4" stroke="#0a0a0a" stroke-width="0.9"/>
<line x1="369" y1="1421.3" x2="366" y2="1426.4" stroke="#0a0a0a" stroke-width="0.9"/>
<rect x="293.5" y="1436.5" width="62" height="22" rx="2" fill="#ececec" stroke="#0a0a0a" stroke-width="1.12"/>
<rect x="332.5" y="1464.5" width="21" height="5" rx="0" fill="#f4f4f4" stroke="#0a0a0a" stroke-width="1.12"/>
<rect x="282.5" y="1478.5" width="82" height="25" rx="2" fill="#e8e8e8" stroke="#0a0a0a" stroke-width="1.12"/>
<rect x="293.5" y="1466.5" width="9" height="8" rx="0" fill="#ececec" stroke="#0a0a0a" stroke-width="1.12"/>
<rect x="290.5" y="1483.5" width="15" height="13" rx="3" fill="#e6e6e6" stroke="#0a0a0a" stroke-width="1.23"/>
<rect x="292.5" y="1485.5" width="11" height="10" rx="2" fill="none" stroke="#0a0a0a" stroke-width="0.9"/>
<path d="M297.95 1486.55 L302.15 1493.35 L293.75 1493.35 Z" fill="none" stroke="#0a0a0a" stroke-width="1.12" stroke-linejoin="round" />
<rect x="311.5" y="1483.5" width="15" height="13" rx="3" fill="#e6e6e6" stroke="#0a0a0a" stroke-width="1.23"/>
<rect x="313.5" y="1485.5" width="11" height="10" rx="2" fill="none" stroke="#0a0a0a" stroke-width="0.9"/>
<path d="M318.9 1493.75 L323.1 1486.95 L314.7 1486.95 Z" fill="none" stroke="#0a0a0a" stroke-width="1.12" stroke-linejoin="round" />
<circle cx="336.9" cy="1490.6" r="2.2" fill="none" stroke="#0a0a0a" stroke-width="1"/>
<line x1="336.5" y1="1485.5" x2="336.5" y2="1496.8" stroke="#0a0a0a" stroke-width="1"/>
<circle cx="354.5" cy="1490.6" r="2.6" fill="none" stroke="#0a0a0a" stroke-width="1"/>
<line x1="324.5" y1="1391.2" x2="324.5" y2="1569.5" stroke="#0a0a0a" stroke-width="1"/>
<line x1="252.1" y1="1459.5" x2="401.1" y2="1459.5" stroke="#0a0a0a" stroke-width="1"/>
<line x1="298.5" y1="1461.7" x2="298.5" y2="1510.6" stroke="#0a0a0a" stroke-width="1"/>
<line x1="265.5" y1="1350.4" x2="265.5" y2="1398.3" stroke="#0a0a0a" stroke-width="1"/>
<line x1="383.5" y1="1350.4" x2="383.5" y2="1398.3" stroke="#0a0a0a" stroke-width="1"/>
<line x1="265.4" y1="1352.5" x2="315" y2="1352.5" stroke="#0a0a0a" stroke-width="1"/>
<line x1="333" y1="1352.5" x2="383.4" y2="1352.5" stroke="#0a0a0a" stroke-width="1"/>
<text transform="translate(324 1356.7) scale(0.8 1)" font-size="12.5" text-anchor="middle" font-weight="normal" fill="#111">40</text>
<polygon points="265.4,1352.2 273.9,1350.3 273.9,1354.1" fill="#0a0a0a"/>
<polygon points="383.4,1352.2 374.9,1354.1 374.9,1350.3" fill="#0a0a0a"/>
<line x1="277.5" y1="1373.5" x2="277.5" y2="1413.4" stroke="#0a0a0a" stroke-width="1"/>
<line x1="371.5" y1="1373.5" x2="371.5" y2="1413.4" stroke="#0a0a0a" stroke-width="1"/>
<line x1="277.5" y1="1376.5" x2="315" y2="1376.5" stroke="#0a0a0a" stroke-width="1"/>
<line x1="333" y1="1376.5" x2="371.9" y2="1376.5" stroke="#0a0a0a" stroke-width="1"/>
<text transform="translate(324 1380.6) scale(0.8 1)" font-size="12.5" text-anchor="middle" font-weight="normal" fill="#111">30</text>
<polygon points="277.5,1376.1 286,1374.2 286,1378" fill="#0a0a0a"/>
<polygon points="371.9,1376.1 363.4,1378 363.4,1374.2" fill="#0a0a0a"/>
<line x1="214" y1="1400.5" x2="261.9" y2="1400.5" stroke="#0a0a0a" stroke-width="1"/>
<line x1="214" y1="1517.5" x2="261.9" y2="1517.5" stroke="#0a0a0a" stroke-width="1"/>
<line x1="216.5" y1="1400" x2="216.5" y2="1454" stroke="#0a0a0a" stroke-width="1"/>
<line x1="216.5" y1="1468" x2="216.5" y2="1517.2" stroke="#0a0a0a" stroke-width="1"/>
<text transform="translate(216.6 1465.5) scale(0.8 1)" font-size="12.5" text-anchor="middle" font-weight="normal" fill="#111">40</text>
<polygon points="216.6,1400 218.5,1408.5 214.7,1408.5" fill="#0a0a0a"/>
<polygon points="216.6,1517.2 214.7,1508.7 218.5,1508.7" fill="#0a0a0a"/>
<line x1="240.6" y1="1417.5" x2="273.4" y2="1417.5" stroke="#0a0a0a" stroke-width="1"/>
<line x1="240.6" y1="1507.5" x2="273.4" y2="1507.5" stroke="#0a0a0a" stroke-width="1"/>
<line x1="245.5" y1="1417" x2="245.5" y2="1454" stroke="#0a0a0a" stroke-width="1"/>
<line x1="245.5" y1="1468" x2="245.5" y2="1507" stroke="#0a0a0a" stroke-width="1"/>
<text transform="translate(245 1465.5) scale(0.8 1)" font-size="12.5" text-anchor="middle" font-weight="normal" fill="#111">30</text>
<polygon points="245,1417 246.9,1425.5 243.1,1425.5" fill="#0a0a0a"/>
<polygon points="245,1507 243.1,1498.5 246.9,1498.5" fill="#0a0a0a"/>
<path d="M490.2 1397 H462.7 V1521.5 H490.2" fill="none" stroke="#0a0a0a" stroke-width="1.01" stroke-linejoin="round" stroke-dasharray="12 2 2 2 2 2"/>
<rect x="515.5" y="1518.5" width="10" height="38" rx="1.5" fill="#e2e2e2" stroke="#0a0a0a" stroke-width="1.23"/>
<line x1="520.5" y1="1512" x2="520.5" y2="1570" stroke="#0a0a0a" stroke-width="1"/>
<path d="M566 1441.5 L592.6 1441.5 L592.6 1476.1 L583.7 1476.1 L583.7 1512.9 L549 1512.9 L549 1495 L566 1495 Z" fill="#e0e0e0" stroke="#0a0a0a" stroke-width="1.23" stroke-linejoin="round" />
<line x1="566" y1="1450.5" x2="592.6" y2="1450.5" stroke="#0a0a0a" stroke-width="1"/>
<line x1="575.6" y1="1465.5" x2="592.6" y2="1465.5" stroke="#0a0a0a" stroke-width="1"/>
<line x1="575.5" y1="1465.6" x2="575.5" y2="1512.9" stroke="#0a0a0a" stroke-width="1"/>
<line x1="575.6" y1="1465.6" x2="583.7" y2="1476.1" stroke="#0a0a0a" stroke-width="1"/>
<path d="M494.2 1405.2 L496.5 1402 L499 1403 L500.5 1399.5 L503 1400.5 L503.9 1394.7 L509.5 1393.9 L561.9 1409.2 L568.4 1410 L568.4 1437.4 L560.3 1437.4 L560.3 1413.2 L494.2 1406.8 Z" fill="#e0e0e0" stroke="#0a0a0a" stroke-width="1.23" stroke-linejoin="round" />
<path d="M490.6 1406.8 L560.3 1413.2 L560.3 1505.2 L549 1507.6 L490.6 1510 Z" fill="#e0e0e0" stroke="#0a0a0a" stroke-width="1.23" stroke-linejoin="round" />
<path d="M561.9 1409.2 H565 Q568.4 1409.2 568.4 1413 V1437.4" fill="none" stroke="#0a0a0a" stroke-width="1.12" stroke-linejoin="round" />
<rect x="562.5" y="1412.5" width="3" height="14" rx="0" fill="#e4e4e4" stroke="#0a0a0a" stroke-width="1.01"/>
<path d="M563.5 1426 V1439 L568.4 1479.4 L567.6 1506.8 H549" fill="none" stroke="#0a0a0a" stroke-width="1.12" stroke-linejoin="round" />
<path d="M561.5 1436 L565.6 1479.4 L565 1504 H552" fill="none" stroke="#0a0a0a" stroke-width="1.01" stroke-linejoin="round" />
<path d="M568.4 1415 Q571.5 1418 571.5 1424 V1432 Q571.5 1436 568.4 1437.4" fill="#e4e4e4" stroke="#0a0a0a" stroke-width="1.12" stroke-linejoin="round" />
<path d="M491.8 1414.8 H543.7 Q548.2 1414.8 548.2 1419.2 Q548.2 1423.7 543.7 1423.7 H491.8" fill="#e4e4e4" stroke="#0a0a0a" stroke-width="1.12" stroke-linejoin="round" />
<line x1="522.5" y1="1414.8" x2="522.5" y2="1423.7" stroke="#0a0a0a" stroke-width="1"/>
<path d="M491.8 1438.2 H515.5 Q520.8 1438.2 520.8 1443.4 Q520.8 1448.7 515.5 1448.7 H491.8" fill="#e4e4e4" stroke="#0a0a0a" stroke-width="1.12" stroke-linejoin="round" />
<path d="M491.8 1470.5 H515.5 Q520.8 1470.5 520.8 1475.7 Q520.8 1481 515.5 1481 H491.8" fill="#e4e4e4" stroke="#0a0a0a" stroke-width="1.12" stroke-linejoin="round" />
<rect x="493.5" y="1448.5" width="23" height="22" rx="0" fill="#e4e4e4" stroke="#0a0a0a" stroke-width="1.12"/>
<rect x="523.5" y="1475.5" width="4" height="21" rx="0" fill="#e4e4e4" stroke="#0a0a0a" stroke-width="1.12"/>
<rect x="557.5" y="1475.5" width="3" height="21" rx="0" fill="#e4e4e4" stroke="#0a0a0a" stroke-width="1.12"/>
<path d="M534.3 1471.3 H550.9 Q553.9 1471.3 553.9 1474.3 V1492.5 Q553.9 1495.5 550.9 1495.5 L549.8 1497 V1508.4 H538.5 V1497 L534.3 1495.5 Q531.3 1495.5 531.3 1492.5 V1474.3 Q531.3 1471.3 534.3 1471.3 Z" fill="#e4e4e4" stroke="#0a0a0a" stroke-width="1.34" stroke-linejoin="round" />
<rect x="536.5" y="1477.5" width="12" height="14" rx="1" fill="#f0f0f0" stroke="#0a0a0a" stroke-width="1.23"/>
<rect x="538.5" y="1486.5" width="8" height="3" rx="0" fill="#f6f6f6" stroke="#0a0a0a" stroke-width="1.12"/>
<path d="M491.8 1510 L507.9 1502.7 L523.2 1512.4 L516.8 1521.3 L504.7 1519.7 L503 1517 L500.5 1518 L499 1514.5 L496.5 1515.5 L495 1512.5 Z" fill="#e0e0e0" stroke="#0a0a0a" stroke-width="1.23" stroke-linejoin="round" />
<path d="M523.2 1512.4 L533 1510.5 L533 1516 L521 1516 Z" fill="#e4e4e4" stroke="#0a0a0a" stroke-width="1.12" stroke-linejoin="round" />
<line x1="523.2" y1="1512.4" x2="537" y2="1507" stroke="#0a0a0a" stroke-width="0.9"/>
<path d="M476.5 1425.9 Q476.5 1422.9 479 1422.9 H481 V1471.3 H479 Q476.5 1471.3 476.5 1468.3 Z" fill="#e0e0e0" stroke="#0a0a0a" stroke-width="1.12" stroke-linejoin="round" />
<rect x="481.5" y="1400.5" width="9" height="115" rx="2.5" fill="#e4e4e4" stroke="#0a0a0a" stroke-width="1.34"/>
<rect x="485.5" y="1423.5" width="5" height="13" rx="0" fill="#e4e4e4" stroke="#0a0a0a" stroke-width="1.12"/>
<rect x="485.5" y="1481.5" width="5" height="13" rx="0" fill="#e4e4e4" stroke="#0a0a0a" stroke-width="1.12"/>
<line x1="454.7" y1="1459.5" x2="611.9" y2="1459.5" stroke="#0a0a0a" stroke-width="1" stroke-dasharray="84 2 3 2 200"/>
<line x1="463.5" y1="1323.7" x2="463.5" y2="1397" stroke="#0a0a0a" stroke-width="1"/>
<line x1="592.5" y1="1323.7" x2="592.5" y2="1440.6" stroke="#0a0a0a" stroke-width="1"/>
<line x1="463.2" y1="1330.5" x2="513.6" y2="1330.5" stroke="#0a0a0a" stroke-width="1"/>
<line x1="537.6" y1="1330.5" x2="592.6" y2="1330.5" stroke="#0a0a0a" stroke-width="1"/>
<text transform="translate(525.6 1334.7) scale(0.74 1)" font-size="12.5" text-anchor="middle" font-weight="normal" fill="#111">43.7</text>
<polygon points="463.2,1330.2 471.7,1328.3 471.7,1332.1" fill="#0a0a0a"/>
<polygon points="592.6,1330.2 584.1,1332.1 584.1,1328.3" fill="#0a0a0a"/>
<line x1="491.5" y1="1348" x2="491.5" y2="1398" stroke="#0a0a0a" stroke-width="1"/>
<line x1="463.2" y1="1353.5" x2="491.5" y2="1353.5" stroke="#0a0a0a" stroke-width="1"/>
<polygon points="463.2,1353.2 471.7,1351.3 471.7,1355.1" fill="#0a0a0a"/>
<polygon points="491.5,1353.2 483,1355.1 483,1351.3" fill="#0a0a0a"/>
<text transform="translate(476.5 1348.22) scale(0.74 1)" font-size="12" text-anchor="middle" font-weight="normal" fill="#111">9.7</text>
<line x1="491.5" y1="1353.5" x2="530" y2="1353.5" stroke="#0a0a0a" stroke-width="1"/>
<line x1="547" y1="1353.5" x2="592.6" y2="1353.5" stroke="#0a0a0a" stroke-width="1"/>
<text transform="translate(538.5 1357.7) scale(0.8 1)" font-size="12.5" text-anchor="middle" font-weight="normal" fill="#111">34</text>
<polygon points="491.5,1353.2 500,1351.3 500,1355.1" fill="#0a0a0a"/>
<polygon points="592.6,1353.2 584.1,1355.1 584.1,1351.3" fill="#0a0a0a"/>
<line x1="481.5" y1="1369.7" x2="481.5" y2="1399.5" stroke="#0a0a0a" stroke-width="1"/>
<text transform="translate(485.3 1368.5) scale(0.8 1)" font-size="12.5" text-anchor="middle" font-weight="normal" fill="#111">3</text>
<line x1="471.6" y1="1374.5" x2="481.3" y2="1374.5" stroke="#0a0a0a" stroke-width="1"/>
<polygon points="481.3,1374.5 475.3,1376.4 475.3,1372.6" fill="#0a0a0a"/>
<line x1="491.5" y1="1374.5" x2="503.9" y2="1374.5" stroke="#0a0a0a" stroke-width="1"/>
<polygon points="491.5,1374.5 497.5,1372.6 497.5,1376.4" fill="#0a0a0a"/>
<line x1="439" y1="1397.5" x2="463.5" y2="1397.5" stroke="#0a0a0a" stroke-width="1"/>
<line x1="437" y1="1522.5" x2="466.8" y2="1522.5" stroke="#0a0a0a" stroke-width="1"/>
<line x1="441.5" y1="1397.1" x2="441.5" y2="1452" stroke="#0a0a0a" stroke-width="1"/>
<line x1="441.5" y1="1468" x2="441.5" y2="1522.1" stroke="#0a0a0a" stroke-width="1"/>
<polygon points="441,1397.1 442.9,1405.6 439.1,1405.6" fill="#0a0a0a"/>
<polygon points="441,1522.1 439.1,1513.6 442.9,1513.6" fill="#0a0a0a"/>
<text transform="translate(439.6 1464.14) scale(0.68 1)" font-size="11.5" text-anchor="middle" font-weight="normal" fill="#111">42.7</text>
<line x1="476.5" y1="1472.9" x2="476.5" y2="1544.7" stroke="#0a0a0a" stroke-width="1"/>
<line x1="491.5" y1="1518" x2="491.5" y2="1546.3" stroke="#0a0a0a" stroke-width="1"/>
<line x1="465.2" y1="1541.5" x2="476.5" y2="1541.5" stroke="#0a0a0a" stroke-width="1"/>
<polygon points="476.5,1541 470.5,1542.9 470.5,1539.1" fill="#0a0a0a"/>
<line x1="491.5" y1="1541.5" x2="500.6" y2="1541.5" stroke="#0a0a0a" stroke-width="1"/>
<polygon points="491.5,1541 497.5,1539.1 497.5,1542.9" fill="#0a0a0a"/>
<text transform="translate(482.1 1554.82) scale(0.74 1)" font-size="12" text-anchor="middle" font-weight="normal" fill="#111">4.5</text>
<rect x="791.5" y="1266.5" width="330" height="394" rx="0" fill="none" stroke="#000" stroke-width="1.06"/>
<circle cx="805.5" cy="1279.7" r="6" fill="#000" stroke="#0a0a0a" stroke-width="0"/>
<text x="816.3" y="1284.76" font-size="13.5" textLength="246.8" lengthAdjust="spacingAndGlyphs" font-weight="normal" fill="#111" xml:space="preserve">Panel cutaway dimension (Scale: 1/4, Unit: mm)</text>
<rect x="891.5" y="1339.5" width="61" height="61" rx="0" fill="#e4e4e4" stroke="#0a0a0a" stroke-width="1.23"/>
<rect x="981.5" y="1339.5" width="60" height="61" rx="0" fill="#e4e4e4" stroke="#0a0a0a" stroke-width="1.23"/>
<rect x="891.5" y="1456.5" width="61" height="60" rx="0" fill="#e4e4e4" stroke="#0a0a0a" stroke-width="1.23"/>
<line x1="921.5" y1="1306.7" x2="921.5" y2="1520.7" stroke="#0a0a0a" stroke-width="1"/>
<line x1="1011.5" y1="1306.7" x2="1011.5" y2="1403" stroke="#0a0a0a" stroke-width="1"/>
<line x1="860.4" y1="1370.5" x2="1043.6" y2="1370.5" stroke="#0a0a0a" stroke-width="1"/>
<line x1="860.4" y1="1486.5" x2="957.7" y2="1486.5" stroke="#0a0a0a" stroke-width="1"/>
<line x1="921.4" y1="1309.5" x2="959.4" y2="1309.5" stroke="#0a0a0a" stroke-width="1"/>
<line x1="976.4" y1="1309.5" x2="1011.4" y2="1309.5" stroke="#0a0a0a" stroke-width="1"/>
<text transform="translate(967.9 1313.8) scale(0.8 1)" font-size="12.5" text-anchor="middle" font-weight="normal" fill="#111">56</text>
<polygon points="921.4,1309.3 931.6,1307.17 931.6,1311.43" fill="#0a0a0a"/>
<polygon points="1011.4,1309.3 1001.2,1311.43 1001.2,1307.17" fill="#0a0a0a"/>
<line x1="862.5" y1="1370.3" x2="862.5" y2="1416.5" stroke="#0a0a0a" stroke-width="1"/>
<line x1="862.5" y1="1431.5" x2="862.5" y2="1486.4" stroke="#0a0a0a" stroke-width="1"/>
<text transform="translate(862.8 1428.5) scale(0.8 1)" font-size="12.5" text-anchor="middle" font-weight="normal" fill="#111">80</text>
<polygon points="862.8,1370.3 864.93,1380.5 860.67,1380.5" fill="#0a0a0a"/>
<polygon points="862.8,1486.4 860.67,1476.2 864.93,1476.2" fill="#0a0a0a"/>
<line x1="1042.8" y1="1339.5" x2="1068" y2="1339.5" stroke="#0a0a0a" stroke-width="1"/>
<line x1="1042.8" y1="1400.5" x2="1068" y2="1400.5" stroke="#0a0a0a" stroke-width="1"/>
<line x1="1065.5" y1="1339.8" x2="1065.5" y2="1400.2" stroke="#0a0a0a" stroke-width="1"/>
<polygon points="1065.1,1339.8 1067.23,1347.6 1062.97,1347.6" fill="#0a0a0a"/>
<polygon points="1065.1,1400.2 1062.97,1392.4 1067.23,1392.4" fill="#0a0a0a"/>
<rect x="1060" y="1356" width="24" height="25" fill="#fff"/>
<text transform="translate(1053.3 1373.5) scale(0.8 1)" font-size="12.5" text-anchor="middle" font-weight="normal" fill="#111">36</text>
<text transform="translate(1066.8 1369.34) scale(0.9 1)" font-size="14" text-anchor="middle" font-weight="normal" fill="#111">+</text>
<text transform="translate(1077 1367.94) scale(0.8 1)" font-size="9" text-anchor="middle" font-weight="bold" fill="#111">0.5</text>
<text transform="translate(1074 1378.04) scale(0.8 1)" font-size="9" text-anchor="middle" font-weight="bold" fill="#111">0</text>
<line x1="981.5" y1="1403" x2="981.5" y2="1428.6" stroke="#0a0a0a" stroke-width="1"/>
<line x1="1041.5" y1="1403" x2="1041.5" y2="1428.6" stroke="#0a0a0a" stroke-width="1"/>
<line x1="981.2" y1="1424.5" x2="993.5" y2="1424.5" stroke="#0a0a0a" stroke-width="1"/>
<polygon points="981.2,1424.3 989,1422.17 989,1426.43" fill="#0a0a0a"/>
<line x1="1031" y1="1424.5" x2="1041.3" y2="1424.5" stroke="#0a0a0a" stroke-width="1"/>
<polygon points="1041.3,1424.3 1033.5,1426.43 1033.5,1422.17" fill="#0a0a0a"/>
<text transform="translate(1002.9 1427) scale(0.8 1)" font-size="12.5" text-anchor="middle" font-weight="normal" fill="#111">36</text>
<text transform="translate(1015.5 1420.04) scale(0.9 1)" font-size="14" text-anchor="middle" font-weight="normal" fill="#111">+</text>
<text transform="translate(1025.4 1418.74) scale(0.8 1)" font-size="9" text-anchor="middle" font-weight="bold" fill="#111">0.5</text>
<text transform="translate(1022 1430.64) scale(0.8 1)" font-size="9" text-anchor="middle" font-weight="bold" fill="#111">0</text>
<text x="798.4" y="1547.04" font-size="14" textLength="30.6" lengthAdjust="spacingAndGlyphs" font-weight="normal" fill="#111" xml:space="preserve">Notes:</text>
<text x="833.6" y="1547.04" font-size="14" textLength="256.8" lengthAdjust="spacingAndGlyphs" font-weight="normal" fill="#111" xml:space="preserve">1.Set the mounting board thickness at 1∼3.2mm.</text>
<text x="833.6" y="1567.04" font-size="14" textLength="184.9" lengthAdjust="spacingAndGlyphs" font-weight="normal" fill="#111" xml:space="preserve">2.The panel cutaway dimensions are</text>
<text x="1023.5" y="1567.04" font-size="14" textLength="11.7" lengthAdjust="spacingAndGlyphs" font-weight="normal" fill="#111" xml:space="preserve">36</text>
<text transform="translate(1038.2 1561.26) scale(0.9 1)" font-size="8.5" text-anchor="middle" font-weight="normal" fill="#111">+</text>
<text transform="translate(1048 1561.52) scale(0.9 1)" font-size="7" text-anchor="middle" font-weight="bold" fill="#111">0.5</text>
<text transform="translate(1044.8 1568.12) scale(0.9 1)" font-size="7" text-anchor="middle" font-weight="bold" fill="#111">0</text>
<text transform="translate(1060.3 1568.8) scale(1 1)" font-size="20" text-anchor="middle" font-weight="normal" fill="#111">×</text>
<text x="843.1" y="1587.24" font-size="14" textLength="12.1" lengthAdjust="spacingAndGlyphs" font-weight="normal" fill="#111" xml:space="preserve">36</text>
<text transform="translate(858.2 1581.46) scale(0.9 1)" font-size="8.5" text-anchor="middle" font-weight="normal" fill="#111">+</text>
<text transform="translate(867.8 1581.72) scale(0.9 1)" font-size="7" text-anchor="middle" font-weight="bold" fill="#111">0.5</text>
<text transform="translate(864.6 1588.32) scale(0.9 1)" font-size="7" text-anchor="middle" font-weight="bold" fill="#111">0</text>
<text x="873.3" y="1587.24" font-size="14" textLength="21.2" lengthAdjust="spacingAndGlyphs" font-weight="normal" fill="#111" xml:space="preserve">mm.</text>
<text x="833.6" y="1607.14" font-size="14" textLength="280.4" lengthAdjust="spacingAndGlyphs" font-weight="normal" fill="#111" xml:space="preserve">3.When installing close to other items, leave space</text>
<text x="843.4" y="1627.04" font-size="14" textLength="270.6" lengthAdjust="spacingAndGlyphs" font-weight="normal" fill="#111" xml:space="preserve">according to the values shown in the above diagram,</text>
<text x="843.4" y="1647.64" font-size="14" textLength="42.9" lengthAdjust="spacingAndGlyphs" font-weight="normal" fill="#111" xml:space="preserve">or more.</text>
</g>
<g id="wm">
<text x="247" y="918" font-size="128.5" fill="#eeeeee" stroke="#fff" stroke-width="1.6" style="mix-blend-mode:multiply">Discontinued</text>
</g>
</svg>
</body></html>
